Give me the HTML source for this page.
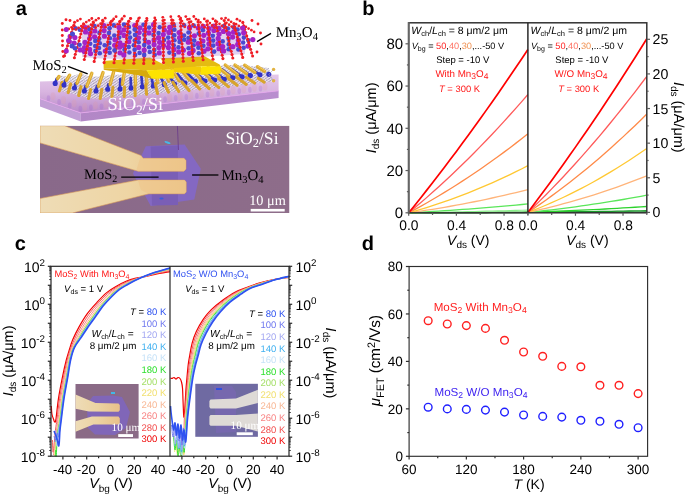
<!DOCTYPE html>
<html><head><meta charset="utf-8"><style>
html,body{margin:0;padding:0;background:#fff;}
svg{display:block;filter:blur(0.35px);}
</style></head><body>
<svg width="685" height="495" viewBox="0 0 685 495" font-family="Liberation Sans, sans-serif" text-rendering="geometricPrecision">
<g font-family="Liberation Sans, sans-serif">
<path d="M408.70,212.80 L414.66,212.79 L420.62,212.78 L426.58,212.78 L432.54,212.77 L438.50,212.76 L444.46,212.75 L450.42,212.74 L456.38,212.73 L462.34,212.72 L468.30,212.71 L474.26,212.70 L480.22,212.69 L486.18,212.68 L492.14,212.67 L498.10,212.65 L504.06,212.64 L510.02,212.63 L515.98,212.62 L521.94,212.60 L527.90,212.59" stroke="#0a7a1a" stroke-width="1.4" fill="none" stroke-linejoin="round"/>
<path d="M408.70,212.80 L414.66,212.77 L420.62,212.74 L426.58,212.71 L432.54,212.67 L438.50,212.64 L444.46,212.60 L450.42,212.56 L456.38,212.52 L462.34,212.48 L468.30,212.44 L474.26,212.40 L480.22,212.35 L486.18,212.31 L492.14,212.26 L498.10,212.21 L504.06,212.16 L510.02,212.11 L515.98,212.06 L521.94,212.01 L527.90,211.96" stroke="#2cb82c" stroke-width="1.2" fill="none" stroke-linejoin="round"/>
<path d="M408.70,212.80 L414.66,212.70 L420.62,212.60 L426.58,212.49 L432.54,212.38 L438.50,212.27 L444.46,212.15 L450.42,212.03 L456.38,211.90 L462.34,211.77 L468.30,211.63 L474.26,211.49 L480.22,211.35 L486.18,211.20 L492.14,211.05 L498.10,210.89 L504.06,210.73 L510.02,210.57 L515.98,210.40 L521.94,210.23 L527.90,210.05" stroke="#8af08a" stroke-width="1.2" fill="none" stroke-linejoin="round"/>
<path d="M408.70,212.80 L414.66,212.48 L420.62,212.15 L426.58,211.81 L432.54,211.45 L438.50,211.08 L444.46,210.70 L450.42,210.30 L456.38,209.89 L462.34,209.47 L468.30,209.03 L474.26,208.58 L480.22,208.12 L486.18,207.64 L492.14,207.15 L498.10,206.64 L504.06,206.13 L510.02,205.60 L515.98,205.05 L521.94,204.50 L527.90,203.93" stroke="#5ae65a" stroke-width="1.3" fill="none" stroke-linejoin="round"/>
<path d="M408.70,212.80 L414.66,211.97 L420.62,211.10 L426.58,210.20 L432.54,209.27 L438.50,208.30 L444.46,207.29 L450.42,206.25 L456.38,205.18 L462.34,204.07 L468.30,202.92 L474.26,201.74 L480.22,200.53 L486.18,199.28 L492.14,198.00 L498.10,196.68 L504.06,195.33 L510.02,193.94 L515.98,192.51 L521.94,191.06 L527.90,189.56" stroke="#ffb47a" stroke-width="1.3" fill="none" stroke-linejoin="round"/>
<path d="M408.70,212.80 L414.66,211.12 L420.62,209.36 L426.58,207.54 L432.54,205.64 L438.50,203.67 L444.46,201.64 L450.42,199.53 L456.38,197.35 L462.34,195.10 L468.30,192.78 L474.26,190.39 L480.22,187.93 L486.18,185.39 L492.14,182.79 L498.10,180.12 L504.06,177.37 L510.02,174.56 L515.98,171.67 L521.94,168.72 L527.90,165.69" stroke="#ffc832" stroke-width="1.3" fill="none" stroke-linejoin="round"/>
<path d="M408.70,212.80 L414.66,209.60 L420.62,206.32 L426.58,202.96 L432.54,199.53 L438.50,196.01 L444.46,192.42 L450.42,188.74 L456.38,184.99 L462.34,181.16 L468.30,177.25 L474.26,173.26 L480.22,169.19 L486.18,165.04 L492.14,160.81 L498.10,156.51 L504.06,152.12 L510.02,147.66 L515.98,143.12 L521.94,138.49 L527.90,133.79" stroke="#ff8a48" stroke-width="1.3" fill="none" stroke-linejoin="round"/>
<path d="M408.70,212.80 L414.66,207.84 L420.62,202.78 L426.58,197.62 L432.54,192.36 L438.50,187.00 L444.46,181.53 L450.42,175.97 L456.38,170.31 L462.34,164.54 L468.30,158.68 L474.26,152.71 L480.22,146.65 L486.18,140.48 L492.14,134.21 L498.10,127.85 L504.06,121.38 L510.02,114.81 L515.98,108.14 L521.94,101.37 L527.90,94.50" stroke="#ff5a5a" stroke-width="1.3" fill="none" stroke-linejoin="round"/>
<path d="M408.70,212.80 L414.66,205.41 L420.62,197.94 L426.58,190.39 L432.54,182.75 L438.50,175.04 L444.46,167.24 L450.42,159.36 L456.38,151.40 L462.34,143.36 L468.30,135.23 L474.26,127.03 L480.22,118.74 L486.18,110.37 L492.14,101.92 L498.10,93.39 L504.06,84.78 L510.02,76.08 L515.98,67.30 L521.94,58.44 L527.90,49.50" stroke="#ff0000" stroke-width="1.7" fill="none" stroke-linejoin="round"/>
<path d="M527.90,212.40 L533.85,212.39 L539.79,212.37 L545.74,212.36 L551.68,212.35 L557.62,212.33 L563.57,212.32 L569.51,212.30 L575.46,212.29 L581.40,212.27 L587.35,212.25 L593.29,212.24 L599.24,212.22 L605.18,212.20 L611.13,212.18 L617.07,212.16 L623.02,212.14 L628.96,212.12 L634.91,212.10 L640.85,212.08 L646.80,212.05" stroke="#0a6a1a" stroke-width="1.4" fill="none" stroke-linejoin="round"/>
<path d="M527.90,212.40 L533.85,212.34 L539.79,212.27 L545.74,212.21 L551.68,212.14 L557.62,212.06 L563.57,211.99 L569.51,211.91 L575.46,211.83 L581.40,211.75 L587.35,211.66 L593.29,211.58 L599.24,211.49 L605.18,211.39 L611.13,211.30 L617.07,211.20 L623.02,211.10 L628.96,210.99 L634.91,210.89 L640.85,210.78 L646.80,210.67" stroke="#1a9a2a" stroke-width="1.3" fill="none" stroke-linejoin="round"/>
<path d="M527.90,212.40 L533.85,212.19 L539.79,211.97 L545.74,211.74 L551.68,211.51 L557.62,211.26 L563.57,211.01 L569.51,210.74 L575.46,210.47 L581.40,210.19 L587.35,209.90 L593.29,209.60 L599.24,209.29 L605.18,208.98 L611.13,208.65 L617.07,208.32 L623.02,207.97 L628.96,207.62 L634.91,207.26 L640.85,206.89 L646.80,206.51" stroke="#2cd22c" stroke-width="1.3" fill="none" stroke-linejoin="round"/>
<path d="M527.90,212.40 L533.85,211.79 L539.79,211.15 L545.74,210.48 L551.68,209.79 L557.62,209.07 L563.57,208.33 L569.51,207.56 L575.46,206.77 L581.40,205.95 L587.35,205.10 L593.29,204.23 L599.24,203.33 L605.18,202.41 L611.13,201.46 L617.07,200.49 L623.02,199.49 L628.96,198.46 L634.91,197.41 L640.85,196.33 L646.80,195.23" stroke="#5ae65a" stroke-width="1.3" fill="none" stroke-linejoin="round"/>
<path d="M527.90,212.40 L533.85,211.09 L539.79,209.73 L545.74,208.31 L551.68,206.84 L557.62,205.32 L563.57,203.74 L569.51,202.10 L575.46,200.41 L581.40,198.66 L587.35,196.86 L593.29,195.01 L599.24,193.10 L605.18,191.13 L611.13,189.11 L617.07,187.04 L623.02,184.91 L628.96,182.72 L634.91,180.48 L640.85,178.19 L646.80,175.84" stroke="#ffb47a" stroke-width="1.3" fill="none" stroke-linejoin="round"/>
<path d="M527.90,212.40 L533.85,210.11 L539.79,207.73 L545.74,205.25 L551.68,202.68 L557.62,200.00 L563.57,197.24 L569.51,194.37 L575.46,191.42 L581.40,188.36 L587.35,185.21 L593.29,181.96 L599.24,178.62 L605.18,175.18 L611.13,171.65 L617.07,168.02 L623.02,164.29 L628.96,160.47 L634.91,156.55 L640.85,152.53 L646.80,148.42" stroke="#ffc832" stroke-width="1.3" fill="none" stroke-linejoin="round"/>
<path d="M527.90,212.40 L533.85,208.42 L539.79,204.34 L545.74,200.16 L551.68,195.88 L557.62,191.51 L563.57,187.03 L569.51,182.46 L575.46,177.79 L581.40,173.02 L587.35,168.16 L593.29,163.19 L599.24,158.13 L605.18,152.97 L611.13,147.70 L617.07,142.35 L623.02,136.89 L628.96,131.33 L634.91,125.68 L640.85,119.93 L646.80,114.08" stroke="#ff8a48" stroke-width="1.3" fill="none" stroke-linejoin="round"/>
<path d="M527.90,212.40 L533.85,206.70 L539.79,200.88 L545.74,194.94 L551.68,188.89 L557.62,182.72 L563.57,176.44 L569.51,170.04 L575.46,163.53 L581.40,156.90 L587.35,150.15 L593.29,143.29 L599.24,136.32 L605.18,129.23 L611.13,122.02 L617.07,114.69 L623.02,107.26 L628.96,99.70 L634.91,92.03 L640.85,84.24 L646.80,76.34" stroke="#ff5a5a" stroke-width="1.3" fill="none" stroke-linejoin="round"/>
<path d="M527.90,212.40 L533.85,204.55 L539.79,196.60 L545.74,188.58 L551.68,180.46 L557.62,172.26 L563.57,163.97 L569.51,155.59 L575.46,147.13 L581.40,138.58 L587.35,129.95 L593.29,121.22 L599.24,112.42 L605.18,103.52 L611.13,94.54 L617.07,85.47 L623.02,76.31 L628.96,67.07 L634.91,57.74 L640.85,48.32 L646.80,38.82" stroke="#ff0000" stroke-width="1.7" fill="none" stroke-linejoin="round"/>
<rect x="408.7" y="22.8" width="238.10" height="190.00" fill="none" stroke="#333" stroke-width="1.5"/>
<line x1="527.90" y1="22.80" x2="527.90" y2="212.80" stroke="#2a2a2a" stroke-width="1.5" />
<line x1="408.70" y1="22.10" x2="408.70" y2="213.50" stroke="#666" stroke-width="1.9" />
<line x1="405.50" y1="212.80" x2="408.70" y2="212.80" stroke="#5c5c5c" stroke-width="1.2" />
<text x="403.10" y="218.00" font-size="15.0" fill="#000" text-anchor="end" >0</text>
<line x1="406.90" y1="191.68" x2="408.70" y2="191.68" stroke="#5c5c5c" stroke-width="1.2" />
<line x1="405.50" y1="170.55" x2="408.70" y2="170.55" stroke="#5c5c5c" stroke-width="1.2" />
<text x="403.10" y="175.75" font-size="15.0" fill="#000" text-anchor="end" >20</text>
<line x1="406.90" y1="149.43" x2="408.70" y2="149.43" stroke="#5c5c5c" stroke-width="1.2" />
<line x1="405.50" y1="128.30" x2="408.70" y2="128.30" stroke="#5c5c5c" stroke-width="1.2" />
<text x="403.10" y="133.50" font-size="15.0" fill="#000" text-anchor="end" >40</text>
<line x1="406.90" y1="107.18" x2="408.70" y2="107.18" stroke="#5c5c5c" stroke-width="1.2" />
<line x1="405.50" y1="86.05" x2="408.70" y2="86.05" stroke="#5c5c5c" stroke-width="1.2" />
<text x="403.10" y="91.25" font-size="15.0" fill="#000" text-anchor="end" >60</text>
<line x1="406.90" y1="64.93" x2="408.70" y2="64.93" stroke="#5c5c5c" stroke-width="1.2" />
<line x1="405.50" y1="43.80" x2="408.70" y2="43.80" stroke="#5c5c5c" stroke-width="1.2" />
<text x="403.10" y="49.00" font-size="15.0" fill="#000" text-anchor="end" >80</text>
<line x1="646.80" y1="212.40" x2="650.00" y2="212.40" stroke="#5c5c5c" stroke-width="1.2" />
<text x="652.60" y="217.40" font-size="14.2" fill="#000" text-anchor="start" >0</text>
<line x1="646.80" y1="177.78" x2="650.00" y2="177.78" stroke="#5c5c5c" stroke-width="1.2" />
<text x="652.60" y="182.78" font-size="14.2" fill="#000" text-anchor="start" >5</text>
<line x1="646.80" y1="143.16" x2="650.00" y2="143.16" stroke="#5c5c5c" stroke-width="1.2" />
<text x="652.60" y="148.16" font-size="14.2" fill="#000" text-anchor="start" >10</text>
<line x1="646.80" y1="108.54" x2="650.00" y2="108.54" stroke="#5c5c5c" stroke-width="1.2" />
<text x="652.60" y="113.54" font-size="14.2" fill="#000" text-anchor="start" >15</text>
<line x1="646.80" y1="73.92" x2="650.00" y2="73.92" stroke="#5c5c5c" stroke-width="1.2" />
<text x="652.60" y="78.92" font-size="14.2" fill="#000" text-anchor="start" >20</text>
<line x1="646.80" y1="39.30" x2="650.00" y2="39.30" stroke="#5c5c5c" stroke-width="1.2" />
<text x="652.60" y="44.30" font-size="14.2" fill="#000" text-anchor="start" >25</text>
<line x1="646.80" y1="195.09" x2="648.60" y2="195.09" stroke="#5c5c5c" stroke-width="1.2" />
<line x1="646.80" y1="160.47" x2="648.60" y2="160.47" stroke="#5c5c5c" stroke-width="1.2" />
<line x1="646.80" y1="125.85" x2="648.60" y2="125.85" stroke="#5c5c5c" stroke-width="1.2" />
<line x1="646.80" y1="91.23" x2="648.60" y2="91.23" stroke="#5c5c5c" stroke-width="1.2" />
<line x1="646.80" y1="56.61" x2="648.60" y2="56.61" stroke="#5c5c5c" stroke-width="1.2" />
<line x1="408.70" y1="212.80" x2="408.70" y2="215.80" stroke="#5c5c5c" stroke-width="1.2" />
<line x1="432.54" y1="212.80" x2="432.54" y2="215.00" stroke="#5c5c5c" stroke-width="1.2" />
<line x1="456.38" y1="212.80" x2="456.38" y2="215.80" stroke="#5c5c5c" stroke-width="1.2" />
<line x1="480.22" y1="212.80" x2="480.22" y2="215.00" stroke="#5c5c5c" stroke-width="1.2" />
<line x1="504.06" y1="212.80" x2="504.06" y2="215.80" stroke="#5c5c5c" stroke-width="1.2" />
<line x1="527.90" y1="212.80" x2="527.90" y2="215.00" stroke="#5c5c5c" stroke-width="1.2" />
<text x="408.90" y="229.60" font-size="13.8" fill="#000" text-anchor="middle" >0.0</text>
<text x="456.58" y="229.60" font-size="13.8" fill="#000" text-anchor="middle" >0.4</text>
<text x="504.26" y="229.60" font-size="13.8" fill="#000" text-anchor="middle" >0.8</text>
<line x1="527.90" y1="212.80" x2="527.90" y2="215.80" stroke="#5c5c5c" stroke-width="1.2" />
<line x1="551.68" y1="212.80" x2="551.68" y2="215.00" stroke="#5c5c5c" stroke-width="1.2" />
<line x1="575.46" y1="212.80" x2="575.46" y2="215.80" stroke="#5c5c5c" stroke-width="1.2" />
<line x1="599.24" y1="212.80" x2="599.24" y2="215.00" stroke="#5c5c5c" stroke-width="1.2" />
<line x1="623.02" y1="212.80" x2="623.02" y2="215.80" stroke="#5c5c5c" stroke-width="1.2" />
<line x1="646.80" y1="212.80" x2="646.80" y2="215.00" stroke="#5c5c5c" stroke-width="1.2" />
<text x="528.10" y="229.60" font-size="13.8" fill="#000" text-anchor="middle" >0.0</text>
<text x="575.66" y="229.60" font-size="13.8" fill="#000" text-anchor="middle" >0.4</text>
<text x="623.22" y="229.60" font-size="13.8" fill="#000" text-anchor="middle" >0.8</text>
<text x="468.30" y="244.60" font-size="14" fill="#000" text-anchor="middle"><tspan font-style="italic">V</tspan><tspan font-size="10" dy="3">ds</tspan><tspan dy="-3"> (V)</tspan></text>
<text x="587.40" y="244.60" font-size="14" fill="#000" text-anchor="middle"><tspan font-style="italic">V</tspan><tspan font-size="10" dy="3">ds</tspan><tspan dy="-3"> (V)</tspan></text>
<text transform="translate(376.2,117.9) rotate(-90)" font-size="14.5" text-anchor="middle" fill="#000"><tspan font-style="italic">I</tspan><tspan font-size="10" dy="3">ds</tspan><tspan dy="-3"> (μA/μm)</tspan></text>
<text transform="translate(674.0,117.3) rotate(90)" font-size="14.5" text-anchor="middle" fill="#000"><tspan font-style="italic">I</tspan><tspan font-size="10" dy="3">ds</tspan><tspan dy="-3"> (μA/μm)</tspan></text>
<text x="411.30" y="34.3" font-size="10.5" fill="#000"><tspan font-style="italic">W</tspan><tspan font-size="7.5" dy="2">ch</tspan><tspan dy="-2">/</tspan><tspan font-style="italic">L</tspan><tspan font-size="7.5" dy="2">ch</tspan><tspan dy="-2"> = 8 μm/2 μm</tspan></text>
<text x="411.70" y="49.2" font-size="9.2" fill="#000"><tspan font-style="italic">V</tspan><tspan font-size="7" dy="2">bg</tspan><tspan dy="-2"> = </tspan><tspan fill="#ff2020">50</tspan>,<tspan fill="#ff7060">40</tspan>,<tspan fill="#f09050">30</tspan>,...-50 V</text>
<text x="462.70" y="62.5" font-size="9.5" fill="#000" text-anchor="middle">Step = -10 V</text>
<text x="461.90" y="77.1" font-size="9.8" fill="#ff1a1a" text-anchor="middle">With Mn<tspan font-size="8.5" dy="1.8">3</tspan><tspan dy="-1.8">O</tspan><tspan font-size="8.5" dy="1.8">4</tspan></text>
<text x="459.50" y="91.5" font-size="9.4" fill="#ff1a1a" text-anchor="middle"><tspan font-style="italic">T</tspan> = 300 K</text>
<text x="530.50" y="34.3" font-size="10.5" fill="#000"><tspan font-style="italic">W</tspan><tspan font-size="7.5" dy="2">ch</tspan><tspan dy="-2">/</tspan><tspan font-style="italic">L</tspan><tspan font-size="7.5" dy="2">ch</tspan><tspan dy="-2"> = 8 μm/2 μm</tspan></text>
<text x="530.90" y="49.2" font-size="9.2" fill="#000"><tspan font-style="italic">V</tspan><tspan font-size="7" dy="2">bg</tspan><tspan dy="-2"> = </tspan><tspan fill="#ff2020">50</tspan>,<tspan fill="#ff7060">40</tspan>,<tspan fill="#f09050">30</tspan>,...-50 V</text>
<text x="581.90" y="62.5" font-size="9.5" fill="#000" text-anchor="middle">Step = -10 V</text>
<text x="581.10" y="77.1" font-size="9.8" fill="#ff1a1a" text-anchor="middle">W/O Mn<tspan font-size="8.5" dy="1.8">3</tspan><tspan dy="-1.8">O</tspan><tspan font-size="8.5" dy="1.8">4</tspan></text>
<text x="578.70" y="91.5" font-size="9.4" fill="#ff1a1a" text-anchor="middle"><tspan font-style="italic">T</tspan> = 300 K</text>
</g>
<g font-family="Liberation Sans, sans-serif">
<path d="M170.00,271.60 C167.50,272.05 159.17,273.47 155.00,274.30 C150.83,275.13 148.33,275.92 145.00,276.60 C141.67,277.28 138.15,277.62 135.00,278.40 C131.85,279.18 129.20,280.00 126.10,281.30 C123.00,282.60 119.63,284.32 116.40,286.20 C113.17,288.08 109.93,289.92 106.70,292.60 C103.47,295.28 100.23,298.80 97.00,302.30 C93.77,305.80 90.27,309.55 87.30,313.60 C84.33,317.65 81.62,322.28 79.20,326.60 C76.78,330.92 74.42,335.73 72.80,339.50 C71.18,343.27 70.58,345.78 69.50,349.20 C68.42,352.62 67.48,355.32 66.30,360.00 C65.12,364.68 63.70,370.92 62.40,377.30 C61.10,383.68 59.58,391.30 58.50,398.30 C57.42,405.30 56.55,415.37 55.90,419.30 C55.25,423.23 55.00,421.95 54.60,421.90 C54.20,421.85 53.95,420.32 53.50,419.00 C53.05,417.68 52.27,416.17 51.90,414.00 C51.53,411.83 51.40,407.33 51.30,406.00" stroke="#f00000" stroke-width="1.2" fill="none" stroke-linejoin="round"/>
<path d="M170.00,270.86 C167.50,271.37 159.17,272.96 155.00,273.90 C150.83,274.84 148.33,275.66 145.00,276.48 C141.67,277.30 138.10,277.91 135.00,278.82 C131.90,279.73 129.41,280.60 126.42,281.94 C123.43,283.28 120.16,284.93 117.04,286.84 C113.92,288.75 110.80,290.73 107.68,293.42 C104.56,296.11 101.43,299.49 98.30,302.96 C95.17,306.43 91.83,310.27 88.92,314.26 C86.01,318.25 83.24,322.77 80.82,326.92 C78.40,331.07 76.14,335.52 74.42,339.18 C72.70,342.84 71.69,345.41 70.48,348.88 C69.27,352.35 68.33,355.26 67.16,360.00 C65.99,364.74 64.72,370.92 63.46,377.30 C62.20,383.68 60.68,391.30 59.60,398.30 C58.52,405.30 57.66,414.02 56.98,419.30 C56.30,424.58 56.13,424.55 55.50,430.00 C54.87,435.45 53.70,450.33 53.20,452.00 C52.70,453.67 52.62,442.00 52.50,440.00" stroke="#f25050" stroke-width="0.95" fill="none" stroke-linejoin="round"/>
<path d="M170.00,270.12 C167.50,270.68 159.17,272.46 155.00,273.50 C150.83,274.54 148.33,275.40 145.00,276.36 C141.67,277.32 138.04,278.20 135.00,279.24 C131.96,280.28 129.63,281.21 126.74,282.58 C123.85,283.95 120.69,285.54 117.68,287.48 C114.67,289.42 111.67,291.55 108.66,294.24 C105.65,296.93 102.62,300.17 99.60,303.62 C96.58,307.07 93.40,310.98 90.54,314.92 C87.68,318.86 84.86,323.25 82.44,327.24 C80.02,331.23 77.87,335.31 76.04,338.86 C74.21,342.41 72.80,345.04 71.46,348.56 C70.12,352.08 69.18,355.21 68.02,360.00 C66.86,364.79 65.74,370.92 64.52,377.30 C63.30,383.68 61.78,391.30 60.70,398.30 C59.62,405.30 58.88,413.02 58.06,419.30 C57.24,425.58 56.56,430.05 55.80,436.00 C55.04,441.95 53.88,451.83 53.50,455.00" stroke="#f88484" stroke-width="0.95" fill="none" stroke-linejoin="round"/>
<path d="M170.00,269.45 C167.50,270.07 159.17,272.01 155.00,273.14 C150.83,274.27 148.33,275.17 145.00,276.25 C141.67,277.33 138.00,278.47 135.00,279.62 C132.00,280.77 129.82,281.75 127.03,283.16 C124.24,284.56 121.17,286.09 118.26,288.06 C115.34,290.03 112.46,292.29 109.54,294.98 C106.63,297.67 103.69,300.79 100.77,304.21 C97.85,307.64 94.81,311.63 92.00,315.51 C89.19,319.40 86.31,323.69 83.90,327.53 C81.48,331.37 79.42,335.11 77.50,338.57 C75.57,342.03 73.79,344.70 72.34,348.27 C70.89,351.84 69.94,355.16 68.79,360.00 C67.65,364.84 66.66,370.92 65.47,377.30 C64.29,383.68 62.76,391.30 61.69,398.30 C60.62,405.30 59.95,413.02 59.03,419.30 C58.12,425.58 56.96,430.88 56.20,436.00 C55.44,441.12 54.78,447.67 54.50,450.00" stroke="#f8b896" stroke-width="0.95" fill="none" stroke-linejoin="round"/>
<path d="M170.00,269.01 C167.50,269.66 159.17,271.71 155.00,272.90 C150.83,274.10 148.33,275.02 145.00,276.18 C141.67,277.34 137.96,278.64 135.00,279.87 C132.04,281.10 129.95,282.11 127.22,283.54 C124.49,284.97 121.49,286.45 118.64,288.44 C115.79,290.43 112.98,292.78 110.13,295.47 C107.28,298.17 104.41,301.20 101.55,304.61 C98.69,308.02 95.75,312.06 92.97,315.91 C90.19,319.76 87.29,323.98 84.87,327.72 C82.45,331.47 80.46,334.99 78.47,338.38 C76.48,341.77 74.46,344.48 72.93,348.08 C71.40,351.68 70.45,355.13 69.31,360.00 C68.17,364.87 67.27,370.92 66.11,377.30 C64.95,383.68 63.42,391.30 62.35,398.30 C61.28,405.30 60.64,413.02 59.68,419.30 C58.72,425.58 57.38,430.55 56.60,436.00 C55.82,441.45 55.35,448.67 55.00,452.00 C54.65,455.33 54.58,455.33 54.50,456.00" stroke="#f2e070" stroke-width="0.95" fill="none" stroke-linejoin="round"/>
<path d="M170.00,268.79 C167.50,269.45 159.17,271.55 155.00,272.78 C150.83,274.01 148.33,274.94 145.00,276.14 C141.67,277.35 137.95,278.73 135.00,280.00 C132.05,281.26 130.01,282.29 127.32,283.73 C124.62,285.17 121.65,286.63 118.83,288.63 C116.02,290.63 113.24,293.02 110.42,295.72 C107.61,298.41 104.77,301.41 101.94,304.81 C99.11,308.21 96.22,312.27 93.46,316.11 C90.69,319.94 87.77,324.12 85.36,327.82 C82.94,331.51 80.98,334.92 78.96,338.28 C76.93,341.65 74.79,344.36 73.22,347.98 C71.66,351.60 70.70,355.11 69.57,360.00 C68.44,364.89 67.58,370.92 66.43,377.30 C65.28,383.68 63.75,391.30 62.68,398.30 C61.61,405.30 60.95,413.02 60.00,419.30 C59.06,425.58 57.77,429.88 57.00,436.00 C56.23,442.12 55.67,452.67 55.40,456.00" stroke="#a6e06a" stroke-width="0.95" fill="none" stroke-linejoin="round"/>
<path d="M170.00,268.64 C167.50,269.32 159.17,271.45 155.00,272.70 C150.83,273.95 148.33,274.89 145.00,276.12 C141.67,277.35 137.94,278.79 135.00,280.08 C132.06,281.37 130.05,282.41 127.38,283.86 C124.71,285.31 121.75,286.76 118.96,288.76 C116.17,290.76 113.41,293.18 110.62,295.88 C107.83,298.58 105.01,301.55 102.20,304.94 C99.39,308.33 96.53,312.42 93.78,316.24 C91.03,320.06 88.10,324.22 85.68,327.88 C83.26,331.54 81.32,334.88 79.28,338.22 C77.24,341.56 75.01,344.29 73.42,347.92 C71.83,351.55 70.87,355.10 69.74,360.00 C68.61,364.90 67.78,370.92 66.64,377.30 C65.50,383.68 63.97,391.30 62.90,398.30 C61.83,405.30 61.12,413.18 60.22,419.30 C59.32,425.42 58.17,428.88 57.50,435.00 C56.83,441.12 56.53,453.50 56.20,456.00 C55.87,458.50 55.62,451.00 55.50,450.00" stroke="#2ee02e" stroke-width="0.95" fill="none" stroke-linejoin="round"/>
<path d="M170.00,268.49 C167.50,269.18 159.17,271.35 155.00,272.62 C150.83,273.89 148.33,274.84 145.00,276.10 C141.67,277.35 137.93,278.85 135.00,280.16 C132.07,281.48 130.10,282.53 127.44,283.99 C124.79,285.44 121.86,286.88 119.09,288.89 C116.32,290.90 113.59,293.35 110.82,296.04 C108.04,298.74 105.25,301.68 102.46,305.07 C99.67,308.46 96.85,312.56 94.10,316.37 C91.36,320.18 88.42,324.31 86.00,327.94 C83.59,331.57 81.67,334.84 79.60,338.16 C77.54,341.47 75.23,344.22 73.62,347.86 C72.00,351.50 71.04,355.09 69.91,360.00 C68.78,364.91 67.98,370.92 66.85,377.30 C65.72,383.68 64.19,391.30 63.12,398.30 C62.05,405.30 61.29,413.52 60.44,419.30 C59.58,425.08 58.57,428.55 58.00,433.00 C57.43,437.45 57.25,444.83 57.00,446.00 C56.75,447.17 56.58,441.00 56.50,440.00" stroke="#b8d8f4" stroke-width="0.95" fill="none" stroke-linejoin="round"/>
<path d="M170.00,268.34 C167.50,269.04 159.17,271.25 155.00,272.54 C150.83,273.83 148.33,274.79 145.00,276.07 C141.67,277.36 137.92,278.91 135.00,280.25 C132.08,281.59 130.14,282.65 127.51,284.12 C124.88,285.58 121.97,287.00 119.22,289.02 C116.47,291.03 113.76,293.51 111.01,296.21 C108.26,298.91 105.48,301.82 102.72,305.20 C99.96,308.59 97.16,312.70 94.43,316.50 C91.70,320.30 88.74,324.41 86.33,328.01 C83.91,331.61 82.01,334.79 79.93,338.09 C77.84,341.39 75.45,344.14 73.81,347.79 C72.17,351.44 71.21,355.08 70.08,360.00 C68.96,364.92 68.19,370.92 67.06,377.30 C65.94,383.68 64.41,391.30 63.34,398.30 C62.27,405.30 61.46,413.68 60.65,419.30 C59.85,424.92 59.08,428.55 58.50,432.00 C57.92,435.45 57.53,439.33 57.20,440.00 C56.87,440.67 56.87,435.67 56.50,436.00 C56.13,436.33 55.25,441.00 55.00,442.00" stroke="#3fb0f0" stroke-width="0.95" fill="none" stroke-linejoin="round"/>
<path d="M170.00,268.20 C167.50,268.91 159.17,271.15 155.00,272.46 C150.83,273.77 148.33,274.74 145.00,276.05 C141.67,277.36 137.90,278.97 135.00,280.33 C132.10,281.70 130.18,282.78 127.57,284.24 C124.96,285.71 122.07,287.12 119.34,289.14 C116.62,291.17 113.94,293.67 111.21,296.37 C108.48,299.07 105.72,301.96 102.98,305.34 C100.24,308.71 97.47,312.85 94.75,316.64 C92.03,320.43 89.07,324.51 86.65,328.07 C84.24,331.64 82.36,334.75 80.25,338.03 C78.14,341.30 75.67,344.07 74.01,347.73 C72.34,351.39 71.38,355.07 70.26,360.00 C69.13,364.93 68.39,370.92 67.28,377.30 C66.16,383.68 64.63,391.30 63.56,398.30 C62.49,405.30 61.63,414.02 60.87,419.30 C60.11,424.58 59.48,425.72 59.00,430.00 C58.52,434.28 58.33,443.67 58.00,445.00 C57.67,446.33 57.40,440.50 57.00,438.00 C56.60,435.50 55.83,431.33 55.60,430.00" stroke="#a3a8f2" stroke-width="0.95" fill="none" stroke-linejoin="round"/>
<path d="M170.00,268.05 C167.50,268.77 159.17,271.05 155.00,272.38 C150.83,273.71 148.33,274.68 145.00,276.02 C141.67,277.36 137.89,279.02 135.00,280.42 C132.11,281.81 130.22,282.90 127.64,284.37 C125.05,285.85 122.18,287.24 119.47,289.27 C116.77,291.30 114.11,293.84 111.40,296.54 C108.70,299.24 105.96,302.10 103.24,305.47 C100.52,308.84 97.79,312.99 95.08,316.77 C92.37,320.55 89.39,324.60 86.98,328.14 C84.56,331.67 82.70,334.71 80.58,337.96 C78.45,341.22 75.90,343.99 74.20,347.66 C72.51,351.34 71.55,355.06 70.43,360.00 C69.31,364.94 68.60,370.92 67.49,377.30 C66.38,383.68 64.85,391.30 63.78,398.30 C62.71,405.30 61.80,413.68 61.08,419.30 C60.37,424.92 59.93,429.05 59.50,432.00 C59.07,434.95 58.88,436.83 58.50,437.00 C58.12,437.17 57.70,432.50 57.20,433.00 C56.70,433.50 56.03,439.50 55.50,440.00 C54.97,440.50 54.25,436.67 54.00,436.00" stroke="#6f78f0" stroke-width="0.95" fill="none" stroke-linejoin="round"/>
<path d="M170.00,267.90 C167.50,268.63 159.17,270.95 155.00,272.30 C150.83,273.65 148.33,274.63 145.00,276.00 C141.67,277.37 137.88,279.08 135.00,280.50 C132.12,281.92 130.27,283.02 127.70,284.50 C125.13,285.98 122.28,287.37 119.60,289.40 C116.92,291.43 114.28,294.00 111.60,296.70 C108.92,299.40 106.20,302.23 103.50,305.60 C100.80,308.97 98.10,313.13 95.40,316.90 C92.70,320.67 89.72,324.70 87.30,328.20 C84.88,331.70 83.05,334.67 80.90,337.90 C78.75,341.13 76.12,343.92 74.40,347.60 C72.68,351.28 71.72,355.05 70.60,360.00 C69.48,364.95 68.80,370.92 67.70,377.30 C66.60,383.68 65.07,391.30 64.00,398.30 C62.93,405.30 61.97,414.02 61.30,419.30 C60.63,424.58 60.32,426.55 60.00,430.00 C59.68,433.45 59.60,437.33 59.40,440.00 C59.20,442.67 59.12,445.83 58.80,446.00 C58.48,446.17 57.97,442.67 57.50,441.00 C57.03,439.33 56.58,437.67 56.00,436.00 C55.42,434.33 54.33,431.83 54.00,431.00" stroke="#2e52f0" stroke-width="1.6" fill="none" stroke-linejoin="round"/>
<path d="M289.20,277.30 C286.83,277.65 279.87,278.48 275.00,279.40 C270.13,280.32 264.52,281.52 260.00,282.80 C255.48,284.08 252.08,285.53 247.90,287.10 C243.72,288.67 239.22,289.93 234.90,292.20 C230.58,294.47 225.93,297.80 222.00,300.70 C218.07,303.60 214.43,306.50 211.30,309.60 C208.17,312.70 205.70,315.63 203.20,319.30 C200.70,322.97 198.13,327.67 196.30,331.60 C194.47,335.53 193.28,339.00 192.20,342.90 C191.12,346.80 190.45,351.48 189.80,355.00 C189.15,358.52 188.77,360.28 188.30,364.00 C187.83,367.72 187.40,372.90 187.00,377.30 C186.60,381.70 186.27,385.15 185.90,390.40 C185.53,395.65 185.12,404.42 184.80,408.80 C184.48,413.18 184.20,415.83 184.00,416.70 C183.80,417.57 183.77,416.78 183.60,414.00 C183.43,411.22 183.18,404.33 183.00,400.00 C182.82,395.67 182.75,391.00 182.50,388.00 C182.25,385.00 181.92,383.58 181.50,382.00 C181.08,380.42 180.58,379.25 180.00,378.50 C179.42,377.75 178.67,377.42 178.00,377.50 C177.33,377.58 176.67,379.00 176.00,379.00 C175.33,379.00 174.67,377.58 174.00,377.50 C173.33,377.42 172.58,378.42 172.00,378.50 C171.42,378.58 170.75,378.08 170.50,378.00" stroke="#f00000" stroke-width="1.2" fill="none" stroke-linejoin="round"/>
<path d="M289.20,277.16 C286.83,277.54 279.87,278.46 275.00,279.46 C270.13,280.45 264.48,281.80 260.00,283.11 C255.52,284.42 252.16,285.76 248.12,287.32 C244.08,288.89 239.92,290.22 235.75,292.48 C231.59,294.74 226.98,298.01 223.12,300.91 C219.26,303.81 215.69,306.78 212.59,309.91 C209.49,313.04 206.99,316.05 204.50,319.71 C202.01,323.37 199.50,327.96 197.66,331.87 C195.81,335.78 194.54,339.31 193.43,343.17 C192.32,347.02 191.68,351.50 190.99,355.00 C190.30,358.50 189.84,360.42 189.31,364.14 C188.78,367.86 188.29,372.80 187.83,377.30 C187.36,381.80 186.95,385.71 186.52,391.14 C186.08,396.58 185.57,405.22 185.21,409.91 C184.84,414.59 184.60,413.25 184.34,419.26 C184.07,425.28 183.92,443.21 183.60,446.00 C183.28,448.79 182.83,435.67 182.40,436.00 C181.97,436.33 181.23,446.00 181.00,448.00" stroke="#f25050" stroke-width="0.95" fill="none" stroke-linejoin="round"/>
<path d="M289.20,277.02 C286.83,277.44 279.87,278.45 275.00,279.51 C270.13,280.58 264.44,282.08 260.00,283.42 C255.56,284.76 252.25,285.99 248.35,287.55 C244.45,289.11 240.63,290.50 236.61,292.76 C232.59,295.02 228.03,298.21 224.24,301.12 C220.45,304.03 216.95,307.05 213.88,310.22 C210.80,313.38 208.28,316.46 205.80,320.11 C203.33,323.76 200.87,328.25 199.02,332.13 C197.16,336.02 195.80,339.62 194.66,343.43 C193.52,347.24 192.90,351.53 192.18,355.00 C191.46,358.47 190.90,360.56 190.32,364.28 C189.73,368.00 189.18,372.70 188.65,377.30 C188.12,381.90 187.64,386.27 187.13,391.88 C186.63,397.50 186.02,406.02 185.61,411.01 C185.20,416.00 184.99,415.33 184.67,421.82 C184.35,428.32 184.08,446.97 183.70,450.00 C183.32,453.03 182.85,439.67 182.40,440.00 C181.95,440.33 181.48,452.00 181.00,452.00 C180.52,452.00 179.75,442.00 179.50,440.00" stroke="#f88484" stroke-width="0.95" fill="none" stroke-linejoin="round"/>
<path d="M289.20,276.90 C286.83,277.34 279.87,278.43 275.00,279.56 C270.13,280.69 264.41,282.32 260.00,283.68 C255.59,285.04 252.32,286.19 248.54,287.74 C244.76,289.29 241.23,290.74 237.34,293.00 C233.45,295.26 228.93,298.39 225.20,301.30 C221.47,304.21 218.03,307.29 214.98,310.48 C211.93,313.67 209.39,316.81 206.92,320.46 C204.45,324.11 202.05,328.49 200.18,332.36 C198.31,336.23 196.88,339.89 195.72,343.66 C194.56,347.43 193.96,351.54 193.20,355.00 C192.44,358.46 191.82,360.68 191.18,364.40 C190.54,368.12 189.95,372.61 189.36,377.30 C188.77,381.99 188.23,386.74 187.66,392.52 C187.09,398.30 186.41,406.71 185.96,411.96 C185.51,417.21 185.32,417.01 184.96,424.02 C184.60,431.03 184.23,450.50 183.80,454.00 C183.37,457.50 182.87,444.67 182.40,445.00 C181.93,445.33 181.57,455.83 181.00,456.00 C180.43,456.17 179.58,446.33 179.00,446.00 C178.42,445.67 177.75,452.67 177.50,454.00" stroke="#f8b896" stroke-width="0.95" fill="none" stroke-linejoin="round"/>
<path d="M289.20,276.80 C286.83,277.27 279.87,278.42 275.00,279.60 C270.13,280.78 264.38,282.52 260.00,283.90 C255.62,285.28 252.38,286.35 248.70,287.90 C245.02,289.45 241.73,290.94 237.95,293.20 C234.17,295.46 229.68,298.53 226.00,301.45 C222.32,304.37 218.93,307.48 215.90,310.70 C212.88,313.92 210.31,317.11 207.85,320.75 C205.39,324.39 203.03,328.70 201.15,332.55 C199.28,336.40 197.78,340.11 196.60,343.85 C195.42,347.59 194.83,351.56 194.05,355.00 C193.27,358.44 192.58,360.78 191.90,364.50 C191.22,368.22 190.58,372.54 189.95,377.30 C189.32,382.06 188.72,387.14 188.10,393.05 C187.48,398.96 186.73,407.28 186.25,412.75 C185.77,418.22 185.57,418.98 185.20,425.85 C184.82,432.73 184.45,450.64 184.00,454.00 C183.55,457.36 183.00,445.67 182.50,446.00 C182.00,446.33 181.50,455.83 181.00,456.00 C180.50,456.17 180.08,447.17 179.50,447.00 C178.92,446.83 178.08,455.67 177.50,455.00 C176.92,454.33 176.50,443.50 176.00,443.00 C175.50,442.50 174.75,450.50 174.50,452.00" stroke="#f2e070" stroke-width="0.95" fill="none" stroke-linejoin="round"/>
<path d="M289.20,276.70 C286.83,277.19 279.87,278.40 275.00,279.64 C270.13,280.88 264.36,282.72 260.00,284.12 C255.64,285.52 252.43,286.51 248.86,288.06 C245.29,289.61 242.24,291.14 238.56,293.40 C234.88,295.66 230.42,298.68 226.80,301.60 C223.18,304.52 219.82,307.68 216.82,310.92 C213.82,314.16 211.23,317.40 208.78,321.04 C206.33,324.68 204.00,328.91 202.12,332.74 C200.24,336.57 198.68,340.33 197.48,344.04 C196.28,347.75 195.71,351.57 194.90,355.00 C194.09,358.43 193.35,360.88 192.62,364.60 C191.89,368.32 191.22,372.47 190.54,377.30 C189.86,382.13 189.21,387.54 188.54,393.58 C187.87,399.62 187.06,407.86 186.54,413.54 C186.02,419.22 185.86,421.27 185.44,427.68 C185.02,434.09 184.49,449.28 184.00,452.00 C183.51,454.72 183.00,443.33 182.50,444.00 C182.00,444.67 181.50,456.00 181.00,456.00 C180.50,456.00 180.00,444.67 179.50,444.00 C179.00,443.33 178.25,450.67 178.00,452.00" stroke="#a6e06a" stroke-width="0.95" fill="none" stroke-linejoin="round"/>
<path d="M289.20,276.62 C286.83,277.13 279.87,278.39 275.00,279.67 C270.13,280.95 264.34,282.88 260.00,284.30 C255.66,285.72 252.48,286.64 248.99,288.19 C245.50,289.73 242.64,291.30 239.05,293.56 C235.46,295.82 231.02,298.80 227.44,301.72 C223.86,304.64 220.54,307.84 217.56,311.10 C214.57,314.35 211.97,317.64 209.52,321.27 C207.08,324.90 204.79,329.07 202.90,332.89 C201.01,336.71 199.40,340.51 198.18,344.19 C196.96,347.88 196.41,351.59 195.58,355.00 C194.75,358.41 193.96,360.96 193.20,364.68 C192.43,368.40 191.73,372.41 191.01,377.30 C190.29,382.19 189.60,387.86 188.89,394.00 C188.19,400.15 187.32,408.32 186.77,414.17 C186.23,420.03 186.04,422.84 185.63,429.14 C185.22,435.45 184.74,449.69 184.30,452.00 C183.86,454.31 183.47,442.33 183.00,443.00 C182.53,443.67 182.00,455.50 181.50,456.00 C181.00,456.50 180.58,446.00 180.00,446.00 C179.42,446.00 178.58,457.00 178.00,456.00 C177.42,455.00 177.00,441.00 176.50,440.00 C176.00,439.00 175.50,450.67 175.00,450.00 C174.50,449.33 173.75,438.33 173.50,436.00" stroke="#2ee02e" stroke-width="0.95" fill="none" stroke-linejoin="round"/>
<path d="M289.20,276.54 C286.83,277.07 279.87,278.38 275.00,279.70 C270.13,281.03 264.31,283.04 260.00,284.47 C255.69,285.91 252.53,286.77 249.12,288.32 C245.71,289.86 243.04,291.47 239.54,293.72 C236.03,295.97 231.62,298.91 228.08,301.84 C224.54,304.77 221.26,307.99 218.29,311.27 C215.32,314.55 212.70,317.88 210.27,321.50 C207.83,325.13 205.57,329.24 203.67,333.04 C201.78,336.85 200.12,340.68 198.89,344.34 C197.65,348.00 197.11,351.60 196.26,355.00 C195.41,358.40 194.57,361.04 193.77,364.76 C192.98,368.48 192.24,372.36 191.48,377.30 C190.73,382.24 189.99,388.18 189.24,394.43 C188.50,400.68 187.57,408.77 187.00,414.80 C186.43,420.83 186.24,425.08 185.82,430.61 C185.41,436.14 184.97,446.43 184.50,448.00 C184.03,449.57 183.50,438.83 183.00,440.00 C182.50,441.17 182.00,454.67 181.50,455.00 C181.00,455.33 180.25,444.17 180.00,442.00" stroke="#b8d8f4" stroke-width="0.95" fill="none" stroke-linejoin="round"/>
<path d="M289.20,276.48 C286.83,277.02 279.87,278.37 275.00,279.73 C270.13,281.08 264.30,283.16 260.00,284.60 C255.70,286.05 252.56,286.87 249.21,288.41 C245.86,289.95 243.34,291.59 239.90,293.84 C236.46,296.09 232.07,299.00 228.56,301.93 C225.05,304.86 221.80,308.11 218.84,311.40 C215.89,314.70 213.26,318.05 210.83,321.68 C208.39,325.30 206.16,329.36 204.25,333.16 C202.35,336.95 200.66,340.82 199.42,344.46 C198.17,348.10 197.64,351.61 196.77,355.00 C195.90,358.39 195.03,361.10 194.20,364.82 C193.38,368.54 192.62,372.31 191.84,377.30 C191.06,382.29 190.28,388.42 189.51,394.75 C188.73,401.08 187.77,409.12 187.18,415.28 C186.59,421.44 186.41,426.59 185.97,431.71 C185.52,436.83 184.99,444.95 184.50,446.00 C184.01,447.05 183.50,437.00 183.00,438.00 C182.50,439.00 182.00,451.67 181.50,452.00 C181.00,452.33 180.50,440.50 180.00,440.00 C179.50,439.50 179.00,449.67 178.50,449.00 C178.00,448.33 177.58,436.50 177.00,436.00 C176.42,435.50 175.33,444.33 175.00,446.00" stroke="#3fb0f0" stroke-width="0.95" fill="none" stroke-linejoin="round"/>
<path d="M289.20,276.42 C286.83,276.98 279.87,278.37 275.00,279.75 C270.13,281.14 264.28,283.28 260.00,284.74 C255.72,286.20 252.60,286.97 249.31,288.51 C246.02,290.05 243.65,291.71 240.27,293.96 C236.89,296.21 232.52,299.09 229.04,302.02 C225.56,304.95 222.34,308.23 219.40,311.54 C216.45,314.84 213.81,318.23 211.38,321.85 C208.96,325.47 206.74,329.49 204.84,333.27 C202.93,337.06 201.20,340.95 199.94,344.57 C198.68,348.19 198.16,351.62 197.28,355.00 C196.40,358.38 195.48,361.16 194.64,364.88 C193.79,368.60 193.00,372.27 192.19,377.30 C191.38,382.33 190.58,388.66 189.77,395.06 C188.97,401.47 187.96,409.46 187.35,415.75 C186.74,422.04 186.50,427.93 186.11,432.80 C185.72,437.68 185.44,444.80 185.00,445.00 C184.56,445.20 184.00,433.17 183.50,434.00 C183.00,434.83 182.50,449.67 182.00,450.00 C181.50,450.33 181.00,436.33 180.50,436.00 C180.00,435.67 179.58,448.67 179.00,448.00 C178.42,447.33 177.58,432.67 177.00,432.00 C176.42,431.33 176.00,444.33 175.50,444.00 C175.00,443.67 174.25,432.33 174.00,430.00" stroke="#a3a8f2" stroke-width="0.95" fill="none" stroke-linejoin="round"/>
<path d="M289.20,276.36 C286.83,276.93 279.87,278.36 275.00,279.78 C270.13,281.19 264.27,283.40 260.00,284.87 C255.73,286.34 252.63,287.07 249.40,288.60 C246.18,290.14 243.95,291.83 240.63,294.08 C237.32,296.33 232.97,299.18 229.52,302.11 C226.07,305.04 222.88,308.35 219.95,311.67 C217.02,314.99 214.36,318.41 211.94,322.03 C209.52,325.65 207.33,329.61 205.42,333.39 C203.51,337.16 201.74,341.08 200.47,344.69 C199.20,348.29 198.69,351.62 197.79,355.00 C196.89,358.38 195.94,361.22 195.07,364.94 C194.19,368.66 193.38,372.23 192.55,377.30 C191.71,382.37 190.87,388.89 190.04,395.38 C189.20,401.87 188.16,409.81 187.53,416.23 C186.90,422.65 186.68,429.94 186.26,433.90 C185.84,437.86 185.46,440.98 185.00,440.00 C184.54,439.02 184.00,427.17 183.50,428.00 C183.00,428.83 182.50,444.67 182.00,445.00 C181.50,445.33 181.00,430.67 180.50,430.00 C180.00,429.33 179.50,441.67 179.00,441.00 C178.50,440.33 178.00,426.83 177.50,426.00 C177.00,425.17 176.50,435.67 176.00,436.00 C175.50,436.33 175.00,427.83 174.50,428.00 C174.00,428.17 173.50,437.50 173.00,437.00 C172.50,436.50 171.75,427.00 171.50,425.00" stroke="#6f78f0" stroke-width="0.95" fill="none" stroke-linejoin="round"/>
<path d="M289.20,276.30 C286.83,276.88 279.87,278.35 275.00,279.80 C270.13,281.25 264.25,283.52 260.00,285.00 C255.75,286.48 252.67,287.17 249.50,288.70 C246.33,290.23 244.25,291.95 241.00,294.20 C237.75,296.45 233.42,299.27 230.00,302.20 C226.58,305.13 223.42,308.47 220.50,311.80 C217.58,315.13 214.92,318.58 212.50,322.20 C210.08,325.82 207.92,329.73 206.00,333.50 C204.08,337.27 202.28,341.22 201.00,344.80 C199.72,348.38 199.22,351.63 198.30,355.00 C197.38,358.37 196.40,361.28 195.50,365.00 C194.60,368.72 193.77,372.18 192.90,377.30 C192.03,382.42 191.17,389.13 190.30,395.70 C189.43,402.27 188.35,410.15 187.70,416.70 C187.05,423.25 186.77,430.78 186.40,435.00 C186.03,439.22 185.90,442.83 185.50,442.00 C185.10,441.17 184.50,430.33 184.00,430.00 C183.50,429.67 183.00,440.83 182.50,440.00 C182.00,439.17 181.50,425.33 181.00,425.00 C180.50,424.67 180.00,438.17 179.50,438.00 C179.00,437.83 178.50,424.50 178.00,424.00 C177.50,423.50 177.00,435.17 176.50,435.00 C176.00,434.83 175.50,423.83 175.00,423.00 C174.50,422.17 174.00,430.50 173.50,430.00 C173.00,429.50 172.42,423.00 172.00,420.00 C171.58,417.00 171.25,414.33 171.00,412.00 C170.75,409.67 170.58,407.00 170.50,406.00" stroke="#2e52f0" stroke-width="1.6" fill="none" stroke-linejoin="round"/>
<defs><linearGradient id="gElc" gradientUnits="userSpaceOnUse" x1="75" y1="0" x2="120" y2="0"><stop offset="0" stop-color="#eedcb8"/><stop offset="0.5" stop-color="#ecd3a2"/><stop offset="1" stop-color="#e8c08a"/></linearGradient></defs>
<rect x="75.5" y="384.0" width="63.1" height="54.5" fill="#8a6a86"/>
<polygon points="86.8,404.0 93.0,396.0 113.0,395.4 122.0,397.0 129.9,412.0 126.0,428.0 115.0,434.9 95.0,434.5 88.0,428.0" fill="#8066b8" />
<polygon points="75.5,394.6 95.5,403.0 118.5,403.4 119.8,405.0 119.8,410.2 118.5,411.8 89.0,411.5 75.5,408.8" fill="url(#gElc)" />
<polygon points="75.5,421.2 91.9,416.6 118.5,416.6 119.8,418.2 119.8,423.2 118.5,424.6 93.4,424.6 75.5,431.8" fill="url(#gElc)" />
<text x="111.6" y="431.3" font-size="11.2" fill="#fff" font-family="Liberation Serif, serif">10 μm</text>
<rect x="118.2" y="434.1" width="14.8" height="2.9" fill="#fff"/>
<rect x="111" y="392" width="4" height="2" fill="#40b8e8"/>
<rect x="195.3" y="383.8" width="62.6" height="53.0" fill="#6f6aa2"/>
<polygon points="214.0,386.0 232.0,386.0 236.0,392.0 236.0,432.0 216.0,433.0" fill="#7668ae" />
<polygon points="257.9,389.8 236.0,398.5 210.5,399.4 209.4,401.0 209.4,407.0 210.5,408.5 236.0,408.5 257.9,403.0" fill="#dedad6" />
<polygon points="257.9,413.5 236.0,415.0 210.5,415.0 209.4,416.5 209.4,424.5 210.5,425.7 236.0,425.7 257.9,431.5" fill="#dedad6" />
<text x="230.6" y="428.7" font-size="11.2" fill="#fff" font-family="Liberation Serif, serif">10 μm</text>
<rect x="236.7" y="432.3" width="16.1" height="2.9" fill="#fff"/>
<rect x="216" y="388" width="6" height="2" fill="#3050e0"/>
<rect x="51.0" y="266.3" width="238.00" height="189.90" fill="none" stroke="#262626" stroke-width="1.2"/>
<line x1="170.00" y1="266.30" x2="170.00" y2="456.20" stroke="#262626" stroke-width="1.2" />
<line x1="47.80" y1="456.20" x2="51.00" y2="456.20" stroke="#262626" stroke-width="1.2" />
<line x1="289.00" y1="456.20" x2="292.20" y2="456.20" stroke="#262626" stroke-width="1.2" />
<line x1="49.20" y1="450.48" x2="51.00" y2="450.48" stroke="#262626" stroke-width="0.9" />
<line x1="289.00" y1="450.48" x2="290.80" y2="450.48" stroke="#262626" stroke-width="0.9" />
<line x1="49.20" y1="447.14" x2="51.00" y2="447.14" stroke="#262626" stroke-width="0.9" />
<line x1="289.00" y1="447.14" x2="290.80" y2="447.14" stroke="#262626" stroke-width="0.9" />
<line x1="49.20" y1="444.77" x2="51.00" y2="444.77" stroke="#262626" stroke-width="0.9" />
<line x1="289.00" y1="444.77" x2="290.80" y2="444.77" stroke="#262626" stroke-width="0.9" />
<line x1="49.20" y1="442.93" x2="51.00" y2="442.93" stroke="#262626" stroke-width="0.9" />
<line x1="289.00" y1="442.93" x2="290.80" y2="442.93" stroke="#262626" stroke-width="0.9" />
<line x1="49.20" y1="441.42" x2="51.00" y2="441.42" stroke="#262626" stroke-width="0.9" />
<line x1="289.00" y1="441.42" x2="290.80" y2="441.42" stroke="#262626" stroke-width="0.9" />
<line x1="49.20" y1="440.15" x2="51.00" y2="440.15" stroke="#262626" stroke-width="0.9" />
<line x1="289.00" y1="440.15" x2="290.80" y2="440.15" stroke="#262626" stroke-width="0.9" />
<line x1="49.20" y1="439.05" x2="51.00" y2="439.05" stroke="#262626" stroke-width="0.9" />
<line x1="289.00" y1="439.05" x2="290.80" y2="439.05" stroke="#262626" stroke-width="0.9" />
<line x1="49.20" y1="438.08" x2="51.00" y2="438.08" stroke="#262626" stroke-width="0.9" />
<line x1="289.00" y1="438.08" x2="290.80" y2="438.08" stroke="#262626" stroke-width="0.9" />
<text x="45.00" y="462.10" font-size="14" text-anchor="end" fill="#000">10<tspan font-size="9.8" dy="-6.2">-8</tspan></text>
<text x="295.50" y="462.10" font-size="14" text-anchor="start" fill="#000">10<tspan font-size="9.8" dy="-6.2">-8</tspan></text>
<line x1="47.80" y1="437.21" x2="51.00" y2="437.21" stroke="#262626" stroke-width="1.2" />
<line x1="289.00" y1="437.21" x2="292.20" y2="437.21" stroke="#262626" stroke-width="1.2" />
<line x1="49.20" y1="431.49" x2="51.00" y2="431.49" stroke="#262626" stroke-width="0.9" />
<line x1="289.00" y1="431.49" x2="290.80" y2="431.49" stroke="#262626" stroke-width="0.9" />
<line x1="49.20" y1="428.15" x2="51.00" y2="428.15" stroke="#262626" stroke-width="0.9" />
<line x1="289.00" y1="428.15" x2="290.80" y2="428.15" stroke="#262626" stroke-width="0.9" />
<line x1="49.20" y1="425.78" x2="51.00" y2="425.78" stroke="#262626" stroke-width="0.9" />
<line x1="289.00" y1="425.78" x2="290.80" y2="425.78" stroke="#262626" stroke-width="0.9" />
<line x1="49.20" y1="423.94" x2="51.00" y2="423.94" stroke="#262626" stroke-width="0.9" />
<line x1="289.00" y1="423.94" x2="290.80" y2="423.94" stroke="#262626" stroke-width="0.9" />
<line x1="49.20" y1="422.43" x2="51.00" y2="422.43" stroke="#262626" stroke-width="0.9" />
<line x1="289.00" y1="422.43" x2="290.80" y2="422.43" stroke="#262626" stroke-width="0.9" />
<line x1="49.20" y1="421.16" x2="51.00" y2="421.16" stroke="#262626" stroke-width="0.9" />
<line x1="289.00" y1="421.16" x2="290.80" y2="421.16" stroke="#262626" stroke-width="0.9" />
<line x1="49.20" y1="420.06" x2="51.00" y2="420.06" stroke="#262626" stroke-width="0.9" />
<line x1="289.00" y1="420.06" x2="290.80" y2="420.06" stroke="#262626" stroke-width="0.9" />
<line x1="49.20" y1="419.09" x2="51.00" y2="419.09" stroke="#262626" stroke-width="0.9" />
<line x1="289.00" y1="419.09" x2="290.80" y2="419.09" stroke="#262626" stroke-width="0.9" />
<line x1="47.80" y1="418.22" x2="51.00" y2="418.22" stroke="#262626" stroke-width="1.2" />
<line x1="289.00" y1="418.22" x2="292.20" y2="418.22" stroke="#262626" stroke-width="1.2" />
<line x1="49.20" y1="412.50" x2="51.00" y2="412.50" stroke="#262626" stroke-width="0.9" />
<line x1="289.00" y1="412.50" x2="290.80" y2="412.50" stroke="#262626" stroke-width="0.9" />
<line x1="49.20" y1="409.16" x2="51.00" y2="409.16" stroke="#262626" stroke-width="0.9" />
<line x1="289.00" y1="409.16" x2="290.80" y2="409.16" stroke="#262626" stroke-width="0.9" />
<line x1="49.20" y1="406.79" x2="51.00" y2="406.79" stroke="#262626" stroke-width="0.9" />
<line x1="289.00" y1="406.79" x2="290.80" y2="406.79" stroke="#262626" stroke-width="0.9" />
<line x1="49.20" y1="404.95" x2="51.00" y2="404.95" stroke="#262626" stroke-width="0.9" />
<line x1="289.00" y1="404.95" x2="290.80" y2="404.95" stroke="#262626" stroke-width="0.9" />
<line x1="49.20" y1="403.44" x2="51.00" y2="403.44" stroke="#262626" stroke-width="0.9" />
<line x1="289.00" y1="403.44" x2="290.80" y2="403.44" stroke="#262626" stroke-width="0.9" />
<line x1="49.20" y1="402.17" x2="51.00" y2="402.17" stroke="#262626" stroke-width="0.9" />
<line x1="289.00" y1="402.17" x2="290.80" y2="402.17" stroke="#262626" stroke-width="0.9" />
<line x1="49.20" y1="401.07" x2="51.00" y2="401.07" stroke="#262626" stroke-width="0.9" />
<line x1="289.00" y1="401.07" x2="290.80" y2="401.07" stroke="#262626" stroke-width="0.9" />
<line x1="49.20" y1="400.10" x2="51.00" y2="400.10" stroke="#262626" stroke-width="0.9" />
<line x1="289.00" y1="400.10" x2="290.80" y2="400.10" stroke="#262626" stroke-width="0.9" />
<text x="45.00" y="424.12" font-size="14" text-anchor="end" fill="#000">10<tspan font-size="9.8" dy="-6.2">-6</tspan></text>
<text x="295.50" y="424.12" font-size="14" text-anchor="start" fill="#000">10<tspan font-size="9.8" dy="-6.2">-6</tspan></text>
<line x1="47.80" y1="399.23" x2="51.00" y2="399.23" stroke="#262626" stroke-width="1.2" />
<line x1="289.00" y1="399.23" x2="292.20" y2="399.23" stroke="#262626" stroke-width="1.2" />
<line x1="49.20" y1="393.51" x2="51.00" y2="393.51" stroke="#262626" stroke-width="0.9" />
<line x1="289.00" y1="393.51" x2="290.80" y2="393.51" stroke="#262626" stroke-width="0.9" />
<line x1="49.20" y1="390.17" x2="51.00" y2="390.17" stroke="#262626" stroke-width="0.9" />
<line x1="289.00" y1="390.17" x2="290.80" y2="390.17" stroke="#262626" stroke-width="0.9" />
<line x1="49.20" y1="387.80" x2="51.00" y2="387.80" stroke="#262626" stroke-width="0.9" />
<line x1="289.00" y1="387.80" x2="290.80" y2="387.80" stroke="#262626" stroke-width="0.9" />
<line x1="49.20" y1="385.96" x2="51.00" y2="385.96" stroke="#262626" stroke-width="0.9" />
<line x1="289.00" y1="385.96" x2="290.80" y2="385.96" stroke="#262626" stroke-width="0.9" />
<line x1="49.20" y1="384.45" x2="51.00" y2="384.45" stroke="#262626" stroke-width="0.9" />
<line x1="289.00" y1="384.45" x2="290.80" y2="384.45" stroke="#262626" stroke-width="0.9" />
<line x1="49.20" y1="383.18" x2="51.00" y2="383.18" stroke="#262626" stroke-width="0.9" />
<line x1="289.00" y1="383.18" x2="290.80" y2="383.18" stroke="#262626" stroke-width="0.9" />
<line x1="49.20" y1="382.08" x2="51.00" y2="382.08" stroke="#262626" stroke-width="0.9" />
<line x1="289.00" y1="382.08" x2="290.80" y2="382.08" stroke="#262626" stroke-width="0.9" />
<line x1="49.20" y1="381.11" x2="51.00" y2="381.11" stroke="#262626" stroke-width="0.9" />
<line x1="289.00" y1="381.11" x2="290.80" y2="381.11" stroke="#262626" stroke-width="0.9" />
<line x1="47.80" y1="380.24" x2="51.00" y2="380.24" stroke="#262626" stroke-width="1.2" />
<line x1="289.00" y1="380.24" x2="292.20" y2="380.24" stroke="#262626" stroke-width="1.2" />
<line x1="49.20" y1="374.52" x2="51.00" y2="374.52" stroke="#262626" stroke-width="0.9" />
<line x1="289.00" y1="374.52" x2="290.80" y2="374.52" stroke="#262626" stroke-width="0.9" />
<line x1="49.20" y1="371.18" x2="51.00" y2="371.18" stroke="#262626" stroke-width="0.9" />
<line x1="289.00" y1="371.18" x2="290.80" y2="371.18" stroke="#262626" stroke-width="0.9" />
<line x1="49.20" y1="368.81" x2="51.00" y2="368.81" stroke="#262626" stroke-width="0.9" />
<line x1="289.00" y1="368.81" x2="290.80" y2="368.81" stroke="#262626" stroke-width="0.9" />
<line x1="49.20" y1="366.97" x2="51.00" y2="366.97" stroke="#262626" stroke-width="0.9" />
<line x1="289.00" y1="366.97" x2="290.80" y2="366.97" stroke="#262626" stroke-width="0.9" />
<line x1="49.20" y1="365.46" x2="51.00" y2="365.46" stroke="#262626" stroke-width="0.9" />
<line x1="289.00" y1="365.46" x2="290.80" y2="365.46" stroke="#262626" stroke-width="0.9" />
<line x1="49.20" y1="364.19" x2="51.00" y2="364.19" stroke="#262626" stroke-width="0.9" />
<line x1="289.00" y1="364.19" x2="290.80" y2="364.19" stroke="#262626" stroke-width="0.9" />
<line x1="49.20" y1="363.09" x2="51.00" y2="363.09" stroke="#262626" stroke-width="0.9" />
<line x1="289.00" y1="363.09" x2="290.80" y2="363.09" stroke="#262626" stroke-width="0.9" />
<line x1="49.20" y1="362.12" x2="51.00" y2="362.12" stroke="#262626" stroke-width="0.9" />
<line x1="289.00" y1="362.12" x2="290.80" y2="362.12" stroke="#262626" stroke-width="0.9" />
<text x="45.00" y="386.14" font-size="14" text-anchor="end" fill="#000">10<tspan font-size="9.8" dy="-6.2">-4</tspan></text>
<text x="295.50" y="386.14" font-size="14" text-anchor="start" fill="#000">10<tspan font-size="9.8" dy="-6.2">-4</tspan></text>
<line x1="47.80" y1="361.25" x2="51.00" y2="361.25" stroke="#262626" stroke-width="1.2" />
<line x1="289.00" y1="361.25" x2="292.20" y2="361.25" stroke="#262626" stroke-width="1.2" />
<line x1="49.20" y1="355.53" x2="51.00" y2="355.53" stroke="#262626" stroke-width="0.9" />
<line x1="289.00" y1="355.53" x2="290.80" y2="355.53" stroke="#262626" stroke-width="0.9" />
<line x1="49.20" y1="352.19" x2="51.00" y2="352.19" stroke="#262626" stroke-width="0.9" />
<line x1="289.00" y1="352.19" x2="290.80" y2="352.19" stroke="#262626" stroke-width="0.9" />
<line x1="49.20" y1="349.82" x2="51.00" y2="349.82" stroke="#262626" stroke-width="0.9" />
<line x1="289.00" y1="349.82" x2="290.80" y2="349.82" stroke="#262626" stroke-width="0.9" />
<line x1="49.20" y1="347.98" x2="51.00" y2="347.98" stroke="#262626" stroke-width="0.9" />
<line x1="289.00" y1="347.98" x2="290.80" y2="347.98" stroke="#262626" stroke-width="0.9" />
<line x1="49.20" y1="346.47" x2="51.00" y2="346.47" stroke="#262626" stroke-width="0.9" />
<line x1="289.00" y1="346.47" x2="290.80" y2="346.47" stroke="#262626" stroke-width="0.9" />
<line x1="49.20" y1="345.20" x2="51.00" y2="345.20" stroke="#262626" stroke-width="0.9" />
<line x1="289.00" y1="345.20" x2="290.80" y2="345.20" stroke="#262626" stroke-width="0.9" />
<line x1="49.20" y1="344.10" x2="51.00" y2="344.10" stroke="#262626" stroke-width="0.9" />
<line x1="289.00" y1="344.10" x2="290.80" y2="344.10" stroke="#262626" stroke-width="0.9" />
<line x1="49.20" y1="343.13" x2="51.00" y2="343.13" stroke="#262626" stroke-width="0.9" />
<line x1="289.00" y1="343.13" x2="290.80" y2="343.13" stroke="#262626" stroke-width="0.9" />
<line x1="47.80" y1="342.26" x2="51.00" y2="342.26" stroke="#262626" stroke-width="1.2" />
<line x1="289.00" y1="342.26" x2="292.20" y2="342.26" stroke="#262626" stroke-width="1.2" />
<line x1="49.20" y1="336.54" x2="51.00" y2="336.54" stroke="#262626" stroke-width="0.9" />
<line x1="289.00" y1="336.54" x2="290.80" y2="336.54" stroke="#262626" stroke-width="0.9" />
<line x1="49.20" y1="333.20" x2="51.00" y2="333.20" stroke="#262626" stroke-width="0.9" />
<line x1="289.00" y1="333.20" x2="290.80" y2="333.20" stroke="#262626" stroke-width="0.9" />
<line x1="49.20" y1="330.83" x2="51.00" y2="330.83" stroke="#262626" stroke-width="0.9" />
<line x1="289.00" y1="330.83" x2="290.80" y2="330.83" stroke="#262626" stroke-width="0.9" />
<line x1="49.20" y1="328.99" x2="51.00" y2="328.99" stroke="#262626" stroke-width="0.9" />
<line x1="289.00" y1="328.99" x2="290.80" y2="328.99" stroke="#262626" stroke-width="0.9" />
<line x1="49.20" y1="327.48" x2="51.00" y2="327.48" stroke="#262626" stroke-width="0.9" />
<line x1="289.00" y1="327.48" x2="290.80" y2="327.48" stroke="#262626" stroke-width="0.9" />
<line x1="49.20" y1="326.21" x2="51.00" y2="326.21" stroke="#262626" stroke-width="0.9" />
<line x1="289.00" y1="326.21" x2="290.80" y2="326.21" stroke="#262626" stroke-width="0.9" />
<line x1="49.20" y1="325.11" x2="51.00" y2="325.11" stroke="#262626" stroke-width="0.9" />
<line x1="289.00" y1="325.11" x2="290.80" y2="325.11" stroke="#262626" stroke-width="0.9" />
<line x1="49.20" y1="324.14" x2="51.00" y2="324.14" stroke="#262626" stroke-width="0.9" />
<line x1="289.00" y1="324.14" x2="290.80" y2="324.14" stroke="#262626" stroke-width="0.9" />
<text x="45.00" y="348.16" font-size="14" text-anchor="end" fill="#000">10<tspan font-size="9.8" dy="-6.2">-2</tspan></text>
<text x="295.50" y="348.16" font-size="14" text-anchor="start" fill="#000">10<tspan font-size="9.8" dy="-6.2">-2</tspan></text>
<line x1="47.80" y1="323.27" x2="51.00" y2="323.27" stroke="#262626" stroke-width="1.2" />
<line x1="289.00" y1="323.27" x2="292.20" y2="323.27" stroke="#262626" stroke-width="1.2" />
<line x1="49.20" y1="317.55" x2="51.00" y2="317.55" stroke="#262626" stroke-width="0.9" />
<line x1="289.00" y1="317.55" x2="290.80" y2="317.55" stroke="#262626" stroke-width="0.9" />
<line x1="49.20" y1="314.21" x2="51.00" y2="314.21" stroke="#262626" stroke-width="0.9" />
<line x1="289.00" y1="314.21" x2="290.80" y2="314.21" stroke="#262626" stroke-width="0.9" />
<line x1="49.20" y1="311.84" x2="51.00" y2="311.84" stroke="#262626" stroke-width="0.9" />
<line x1="289.00" y1="311.84" x2="290.80" y2="311.84" stroke="#262626" stroke-width="0.9" />
<line x1="49.20" y1="310.00" x2="51.00" y2="310.00" stroke="#262626" stroke-width="0.9" />
<line x1="289.00" y1="310.00" x2="290.80" y2="310.00" stroke="#262626" stroke-width="0.9" />
<line x1="49.20" y1="308.49" x2="51.00" y2="308.49" stroke="#262626" stroke-width="0.9" />
<line x1="289.00" y1="308.49" x2="290.80" y2="308.49" stroke="#262626" stroke-width="0.9" />
<line x1="49.20" y1="307.22" x2="51.00" y2="307.22" stroke="#262626" stroke-width="0.9" />
<line x1="289.00" y1="307.22" x2="290.80" y2="307.22" stroke="#262626" stroke-width="0.9" />
<line x1="49.20" y1="306.12" x2="51.00" y2="306.12" stroke="#262626" stroke-width="0.9" />
<line x1="289.00" y1="306.12" x2="290.80" y2="306.12" stroke="#262626" stroke-width="0.9" />
<line x1="49.20" y1="305.15" x2="51.00" y2="305.15" stroke="#262626" stroke-width="0.9" />
<line x1="289.00" y1="305.15" x2="290.80" y2="305.15" stroke="#262626" stroke-width="0.9" />
<line x1="47.80" y1="304.28" x2="51.00" y2="304.28" stroke="#262626" stroke-width="1.2" />
<line x1="289.00" y1="304.28" x2="292.20" y2="304.28" stroke="#262626" stroke-width="1.2" />
<line x1="49.20" y1="298.56" x2="51.00" y2="298.56" stroke="#262626" stroke-width="0.9" />
<line x1="289.00" y1="298.56" x2="290.80" y2="298.56" stroke="#262626" stroke-width="0.9" />
<line x1="49.20" y1="295.22" x2="51.00" y2="295.22" stroke="#262626" stroke-width="0.9" />
<line x1="289.00" y1="295.22" x2="290.80" y2="295.22" stroke="#262626" stroke-width="0.9" />
<line x1="49.20" y1="292.85" x2="51.00" y2="292.85" stroke="#262626" stroke-width="0.9" />
<line x1="289.00" y1="292.85" x2="290.80" y2="292.85" stroke="#262626" stroke-width="0.9" />
<line x1="49.20" y1="291.01" x2="51.00" y2="291.01" stroke="#262626" stroke-width="0.9" />
<line x1="289.00" y1="291.01" x2="290.80" y2="291.01" stroke="#262626" stroke-width="0.9" />
<line x1="49.20" y1="289.50" x2="51.00" y2="289.50" stroke="#262626" stroke-width="0.9" />
<line x1="289.00" y1="289.50" x2="290.80" y2="289.50" stroke="#262626" stroke-width="0.9" />
<line x1="49.20" y1="288.23" x2="51.00" y2="288.23" stroke="#262626" stroke-width="0.9" />
<line x1="289.00" y1="288.23" x2="290.80" y2="288.23" stroke="#262626" stroke-width="0.9" />
<line x1="49.20" y1="287.13" x2="51.00" y2="287.13" stroke="#262626" stroke-width="0.9" />
<line x1="289.00" y1="287.13" x2="290.80" y2="287.13" stroke="#262626" stroke-width="0.9" />
<line x1="49.20" y1="286.16" x2="51.00" y2="286.16" stroke="#262626" stroke-width="0.9" />
<line x1="289.00" y1="286.16" x2="290.80" y2="286.16" stroke="#262626" stroke-width="0.9" />
<text x="45.00" y="310.18" font-size="14" text-anchor="end" fill="#000">10<tspan font-size="9.8" dy="-6.2">0</tspan></text>
<text x="295.50" y="310.18" font-size="14" text-anchor="start" fill="#000">10<tspan font-size="9.8" dy="-6.2">0</tspan></text>
<line x1="47.80" y1="285.29" x2="51.00" y2="285.29" stroke="#262626" stroke-width="1.2" />
<line x1="289.00" y1="285.29" x2="292.20" y2="285.29" stroke="#262626" stroke-width="1.2" />
<line x1="49.20" y1="279.57" x2="51.00" y2="279.57" stroke="#262626" stroke-width="0.9" />
<line x1="289.00" y1="279.57" x2="290.80" y2="279.57" stroke="#262626" stroke-width="0.9" />
<line x1="49.20" y1="276.23" x2="51.00" y2="276.23" stroke="#262626" stroke-width="0.9" />
<line x1="289.00" y1="276.23" x2="290.80" y2="276.23" stroke="#262626" stroke-width="0.9" />
<line x1="49.20" y1="273.86" x2="51.00" y2="273.86" stroke="#262626" stroke-width="0.9" />
<line x1="289.00" y1="273.86" x2="290.80" y2="273.86" stroke="#262626" stroke-width="0.9" />
<line x1="49.20" y1="272.02" x2="51.00" y2="272.02" stroke="#262626" stroke-width="0.9" />
<line x1="289.00" y1="272.02" x2="290.80" y2="272.02" stroke="#262626" stroke-width="0.9" />
<line x1="49.20" y1="270.51" x2="51.00" y2="270.51" stroke="#262626" stroke-width="0.9" />
<line x1="289.00" y1="270.51" x2="290.80" y2="270.51" stroke="#262626" stroke-width="0.9" />
<line x1="49.20" y1="269.24" x2="51.00" y2="269.24" stroke="#262626" stroke-width="0.9" />
<line x1="289.00" y1="269.24" x2="290.80" y2="269.24" stroke="#262626" stroke-width="0.9" />
<line x1="49.20" y1="268.14" x2="51.00" y2="268.14" stroke="#262626" stroke-width="0.9" />
<line x1="289.00" y1="268.14" x2="290.80" y2="268.14" stroke="#262626" stroke-width="0.9" />
<line x1="49.20" y1="267.17" x2="51.00" y2="267.17" stroke="#262626" stroke-width="0.9" />
<line x1="289.00" y1="267.17" x2="290.80" y2="267.17" stroke="#262626" stroke-width="0.9" />
<line x1="47.80" y1="266.30" x2="51.00" y2="266.30" stroke="#262626" stroke-width="1.2" />
<line x1="289.00" y1="266.30" x2="292.20" y2="266.30" stroke="#262626" stroke-width="1.2" />
<text x="45.00" y="272.20" font-size="14" text-anchor="end" fill="#000">10<tspan font-size="9.8" dy="-6.2">2</tspan></text>
<text x="295.50" y="272.20" font-size="14" text-anchor="start" fill="#000">10<tspan font-size="9.8" dy="-6.2">2</tspan></text>
<line x1="62.90" y1="456.20" x2="62.90" y2="459.40" stroke="#262626" stroke-width="1.2" />
<text x="62.60" y="473.50" font-size="13.2" fill="#000" text-anchor="middle" >-40</text>
<line x1="74.80" y1="456.20" x2="74.80" y2="458.20" stroke="#262626" stroke-width="1.2" />
<line x1="86.70" y1="456.20" x2="86.70" y2="459.40" stroke="#262626" stroke-width="1.2" />
<text x="86.40" y="473.50" font-size="13.2" fill="#000" text-anchor="middle" >-20</text>
<line x1="98.60" y1="456.20" x2="98.60" y2="458.20" stroke="#262626" stroke-width="1.2" />
<line x1="110.50" y1="456.20" x2="110.50" y2="459.40" stroke="#262626" stroke-width="1.2" />
<text x="110.50" y="473.50" font-size="13.2" fill="#000" text-anchor="middle" >0</text>
<line x1="122.40" y1="456.20" x2="122.40" y2="458.20" stroke="#262626" stroke-width="1.2" />
<line x1="134.30" y1="456.20" x2="134.30" y2="459.40" stroke="#262626" stroke-width="1.2" />
<text x="134.30" y="473.50" font-size="13.2" fill="#000" text-anchor="middle" >20</text>
<line x1="146.20" y1="456.20" x2="146.20" y2="458.20" stroke="#262626" stroke-width="1.2" />
<line x1="158.10" y1="456.20" x2="158.10" y2="459.40" stroke="#262626" stroke-width="1.2" />
<text x="158.10" y="473.50" font-size="13.2" fill="#000" text-anchor="middle" >40</text>
<text x="111.00" y="488.3" font-size="14.3" text-anchor="middle" fill="#000"><tspan font-style="italic">V</tspan><tspan font-size="10" dy="3.2">bg</tspan><tspan dy="-3.2"> (V)</tspan></text>
<line x1="181.90" y1="456.20" x2="181.90" y2="459.40" stroke="#262626" stroke-width="1.2" />
<text x="181.60" y="473.50" font-size="13.2" fill="#000" text-anchor="middle" >-40</text>
<line x1="193.80" y1="456.20" x2="193.80" y2="458.20" stroke="#262626" stroke-width="1.2" />
<line x1="205.70" y1="456.20" x2="205.70" y2="459.40" stroke="#262626" stroke-width="1.2" />
<text x="205.40" y="473.50" font-size="13.2" fill="#000" text-anchor="middle" >-20</text>
<line x1="217.60" y1="456.20" x2="217.60" y2="458.20" stroke="#262626" stroke-width="1.2" />
<line x1="229.50" y1="456.20" x2="229.50" y2="459.40" stroke="#262626" stroke-width="1.2" />
<text x="229.50" y="473.50" font-size="13.2" fill="#000" text-anchor="middle" >0</text>
<line x1="241.40" y1="456.20" x2="241.40" y2="458.20" stroke="#262626" stroke-width="1.2" />
<line x1="253.30" y1="456.20" x2="253.30" y2="459.40" stroke="#262626" stroke-width="1.2" />
<text x="253.30" y="473.50" font-size="13.2" fill="#000" text-anchor="middle" >20</text>
<line x1="265.20" y1="456.20" x2="265.20" y2="458.20" stroke="#262626" stroke-width="1.2" />
<line x1="277.10" y1="456.20" x2="277.10" y2="459.40" stroke="#262626" stroke-width="1.2" />
<text x="277.10" y="473.50" font-size="13.2" fill="#000" text-anchor="middle" >40</text>
<text x="230.00" y="488.3" font-size="14.3" text-anchor="middle" fill="#000"><tspan font-style="italic">V</tspan><tspan font-size="10" dy="3.2">bg</tspan><tspan dy="-3.2"> (V)</tspan></text>
<text transform="translate(12.5,360.9) rotate(-90)" font-size="14.5" text-anchor="middle" fill="#000"><tspan font-style="italic">I</tspan><tspan font-size="10" dy="3">ds</tspan><tspan dy="-3"> (μA/μm)</tspan></text>
<text transform="translate(325.8,363.0) rotate(90)" font-size="14.5" text-anchor="middle" fill="#000"><tspan font-style="italic">I</tspan><tspan font-size="10" dy="3">ds</tspan><tspan dy="-3"> (μA/μm)</tspan></text>
<text x="54.4" y="276.7" font-size="9.35" fill="#ff1a1a">MoS<tspan font-size="7" dy="2">2</tspan><tspan dy="-2"> With Mn</tspan><tspan font-size="7" dy="2">3</tspan><tspan dy="-2">O</tspan><tspan font-size="7" dy="2">4</tspan></text>
<text x="173.0" y="277.1" font-size="9.4" fill="#3050f0">MoS<tspan font-size="7" dy="2">2</tspan><tspan dy="-2"> W/O Mn</tspan><tspan font-size="7" dy="2">3</tspan><tspan dy="-2">O</tspan><tspan font-size="7" dy="2">4</tspan></text>
<text x="64.1" y="291.6" font-size="9.6" fill="#000"><tspan font-style="italic">V</tspan><tspan font-size="7" dy="2">ds</tspan><tspan dy="-2"> = 1 V</tspan></text>
<text x="185.2" y="291.6" font-size="9.6" fill="#000"><tspan font-style="italic">V</tspan><tspan font-size="7" dy="2">ds</tspan><tspan dy="-2"> = 1 V</tspan></text>
<text x="166.3" y="315.20" font-size="9.5" text-anchor="end" fill="#000"><tspan font-style="italic">T</tspan> = <tspan fill="#2e52f0">80 K</tspan></text>
<text x="166.30" y="326.77" font-size="9.5" fill="#6f78f0" text-anchor="end" >100 K</text>
<text x="166.30" y="338.34" font-size="9.5" fill="#a3a8f2" text-anchor="end" >120 K</text>
<text x="166.30" y="349.91" font-size="9.5" fill="#3fb0f0" text-anchor="end" >140 K</text>
<text x="166.30" y="361.48" font-size="9.5" fill="#c6e2f8" text-anchor="end" >160 K</text>
<text x="166.30" y="373.05" font-size="9.5" fill="#2ee02e" text-anchor="end" >180 K</text>
<text x="166.30" y="384.62" font-size="9.5" fill="#a6e06a" text-anchor="end" >200 K</text>
<text x="166.30" y="396.19" font-size="9.5" fill="#f2e070" text-anchor="end" >220 K</text>
<text x="166.30" y="407.76" font-size="9.5" fill="#f8b896" text-anchor="end" >240 K</text>
<text x="166.30" y="419.33" font-size="9.5" fill="#f88484" text-anchor="end" >260 K</text>
<text x="166.30" y="430.90" font-size="9.5" fill="#f25050" text-anchor="end" >280 K</text>
<text x="166.30" y="442.47" font-size="9.5" fill="#f00000" text-anchor="end" >300 K</text>
<text x="112.6" y="337.3" font-size="10.2" text-anchor="middle" fill="#000"><tspan font-style="italic">W</tspan><tspan font-size="7.2" dy="2">ch</tspan><tspan dy="-2">/</tspan><tspan font-style="italic">L</tspan><tspan font-size="7.2" dy="2">ch</tspan><tspan dy="-2"> =</tspan></text>
<text x="113.0" y="349.2" font-size="9.8" text-anchor="middle" fill="#000">8 μm/2 μm</text>
<text x="285.3" y="316.90" font-size="9.5" text-anchor="end" fill="#000"><tspan font-style="italic">T</tspan> = <tspan fill="#2e52f0">80 K</tspan></text>
<text x="285.30" y="328.47" font-size="9.5" fill="#6f78f0" text-anchor="end" >100 K</text>
<text x="285.30" y="340.04" font-size="9.5" fill="#a3a8f2" text-anchor="end" >120 K</text>
<text x="285.30" y="351.61" font-size="9.5" fill="#3fb0f0" text-anchor="end" >140 K</text>
<text x="285.30" y="363.18" font-size="9.5" fill="#c6e2f8" text-anchor="end" >160 K</text>
<text x="285.30" y="374.75" font-size="9.5" fill="#2ee02e" text-anchor="end" >180 K</text>
<text x="285.30" y="386.32" font-size="9.5" fill="#a6e06a" text-anchor="end" >200 K</text>
<text x="285.30" y="397.89" font-size="9.5" fill="#f2e070" text-anchor="end" >220 K</text>
<text x="285.30" y="409.46" font-size="9.5" fill="#f8b896" text-anchor="end" >240 K</text>
<text x="285.30" y="421.03" font-size="9.5" fill="#f88484" text-anchor="end" >260 K</text>
<text x="285.30" y="432.60" font-size="9.5" fill="#f25050" text-anchor="end" >280 K</text>
<text x="285.30" y="444.17" font-size="9.5" fill="#f00000" text-anchor="end" >300 K</text>
<text x="231.1" y="337.3" font-size="10.2" text-anchor="middle" fill="#000"><tspan font-style="italic">W</tspan><tspan font-size="7.2" dy="2">ch</tspan><tspan dy="-2">/</tspan><tspan font-style="italic">L</tspan><tspan font-size="7.2" dy="2">ch</tspan><tspan dy="-2"> =</tspan></text>
<text x="231.5" y="349.2" font-size="9.8" text-anchor="middle" fill="#000">8 μm/2 μm</text>
</g>
<g font-family="Liberation Sans, sans-serif">
<rect x="409.1" y="266.5" width="238.50" height="189.80" fill="none" stroke="#2e2e2e" stroke-width="1.15"/>
<line x1="405.90" y1="456.30" x2="409.10" y2="456.30" stroke="#2e2e2e" stroke-width="1.2" />
<text x="402.90" y="461.00" font-size="13.5" fill="#000" text-anchor="end" >0</text>
<line x1="407.30" y1="432.57" x2="409.10" y2="432.57" stroke="#2e2e2e" stroke-width="1.2" />
<line x1="405.90" y1="408.85" x2="409.10" y2="408.85" stroke="#2e2e2e" stroke-width="1.2" />
<text x="402.90" y="413.55" font-size="13.5" fill="#000" text-anchor="end" >20</text>
<line x1="407.30" y1="385.12" x2="409.10" y2="385.12" stroke="#2e2e2e" stroke-width="1.2" />
<line x1="405.90" y1="361.40" x2="409.10" y2="361.40" stroke="#2e2e2e" stroke-width="1.2" />
<text x="402.90" y="366.10" font-size="13.5" fill="#000" text-anchor="end" >40</text>
<line x1="407.30" y1="337.68" x2="409.10" y2="337.68" stroke="#2e2e2e" stroke-width="1.2" />
<line x1="405.90" y1="313.95" x2="409.10" y2="313.95" stroke="#2e2e2e" stroke-width="1.2" />
<text x="402.90" y="318.65" font-size="13.5" fill="#000" text-anchor="end" >60</text>
<line x1="407.30" y1="290.23" x2="409.10" y2="290.23" stroke="#2e2e2e" stroke-width="1.2" />
<line x1="405.90" y1="266.50" x2="409.10" y2="266.50" stroke="#2e2e2e" stroke-width="1.2" />
<text x="402.90" y="271.20" font-size="13.5" fill="#000" text-anchor="end" >80</text>
<line x1="409.10" y1="456.30" x2="409.10" y2="459.50" stroke="#2e2e2e" stroke-width="1.2" />
<text x="409.10" y="473.60" font-size="13.5" fill="#000" text-anchor="middle" >60</text>
<line x1="437.73" y1="456.30" x2="437.73" y2="458.30" stroke="#2e2e2e" stroke-width="1.2" />
<line x1="466.35" y1="456.30" x2="466.35" y2="459.50" stroke="#2e2e2e" stroke-width="1.2" />
<text x="466.35" y="473.60" font-size="13.5" fill="#000" text-anchor="middle" >120</text>
<line x1="494.98" y1="456.30" x2="494.98" y2="458.30" stroke="#2e2e2e" stroke-width="1.2" />
<line x1="523.60" y1="456.30" x2="523.60" y2="459.50" stroke="#2e2e2e" stroke-width="1.2" />
<text x="523.60" y="473.60" font-size="13.5" fill="#000" text-anchor="middle" >180</text>
<line x1="552.23" y1="456.30" x2="552.23" y2="458.30" stroke="#2e2e2e" stroke-width="1.2" />
<line x1="580.86" y1="456.30" x2="580.86" y2="459.50" stroke="#2e2e2e" stroke-width="1.2" />
<text x="580.86" y="473.60" font-size="13.5" fill="#000" text-anchor="middle" >240</text>
<line x1="609.48" y1="456.30" x2="609.48" y2="458.30" stroke="#2e2e2e" stroke-width="1.2" />
<line x1="638.11" y1="456.30" x2="638.11" y2="459.50" stroke="#2e2e2e" stroke-width="1.2" />
<text x="638.11" y="473.60" font-size="13.5" fill="#000" text-anchor="middle" >300</text>
<text x="529.0" y="489.3" font-size="14" text-anchor="middle" fill="#000"><tspan font-style="italic">T</tspan> (K)</text>
<text transform="translate(380.3,360.6) rotate(-90)" font-size="15.2" text-anchor="middle" fill="#000"><tspan font-style="italic">μ</tspan><tspan font-size="10.8" dy="3.2">FET</tspan><tspan dy="-3.2"> (cm</tspan><tspan font-size="10.8" dy="-5.5">2</tspan><tspan dy="5.5">/Vs)</tspan></text>
<circle cx="428.18" cy="320.70" r="3.85" fill="none" stroke="#ff1f1f" stroke-width="1.4"/>
<circle cx="428.18" cy="407.20" r="3.85" fill="none" stroke="#1f1fff" stroke-width="1.4"/>
<circle cx="447.27" cy="324.00" r="3.85" fill="none" stroke="#ff1f1f" stroke-width="1.4"/>
<circle cx="447.27" cy="408.90" r="3.85" fill="none" stroke="#1f1fff" stroke-width="1.4"/>
<circle cx="466.35" cy="325.60" r="3.85" fill="none" stroke="#ff1f1f" stroke-width="1.4"/>
<circle cx="466.35" cy="409.40" r="3.85" fill="none" stroke="#1f1fff" stroke-width="1.4"/>
<circle cx="485.44" cy="328.40" r="3.85" fill="none" stroke="#ff1f1f" stroke-width="1.4"/>
<circle cx="485.44" cy="410.10" r="3.85" fill="none" stroke="#1f1fff" stroke-width="1.4"/>
<circle cx="504.52" cy="340.30" r="3.85" fill="none" stroke="#ff1f1f" stroke-width="1.4"/>
<circle cx="504.52" cy="412.10" r="3.85" fill="none" stroke="#1f1fff" stroke-width="1.4"/>
<circle cx="523.60" cy="352.00" r="3.85" fill="none" stroke="#ff1f1f" stroke-width="1.4"/>
<circle cx="523.60" cy="415.00" r="3.85" fill="none" stroke="#1f1fff" stroke-width="1.4"/>
<circle cx="542.69" cy="356.30" r="3.85" fill="none" stroke="#ff1f1f" stroke-width="1.4"/>
<circle cx="542.69" cy="416.40" r="3.85" fill="none" stroke="#1f1fff" stroke-width="1.4"/>
<circle cx="561.77" cy="366.40" r="3.85" fill="none" stroke="#ff1f1f" stroke-width="1.4"/>
<circle cx="561.77" cy="417.10" r="3.85" fill="none" stroke="#1f1fff" stroke-width="1.4"/>
<circle cx="580.86" cy="366.80" r="3.85" fill="none" stroke="#ff1f1f" stroke-width="1.4"/>
<circle cx="580.86" cy="420.30" r="3.85" fill="none" stroke="#1f1fff" stroke-width="1.4"/>
<circle cx="599.94" cy="385.30" r="3.85" fill="none" stroke="#ff1f1f" stroke-width="1.4"/>
<circle cx="599.94" cy="421.30" r="3.85" fill="none" stroke="#1f1fff" stroke-width="1.4"/>
<circle cx="619.02" cy="385.30" r="3.85" fill="none" stroke="#ff1f1f" stroke-width="1.4"/>
<circle cx="619.02" cy="424.30" r="3.85" fill="none" stroke="#1f1fff" stroke-width="1.4"/>
<circle cx="638.11" cy="393.60" r="3.85" fill="none" stroke="#ff1f1f" stroke-width="1.4"/>
<circle cx="638.11" cy="427.70" r="3.85" fill="none" stroke="#1f1fff" stroke-width="1.4"/>
<text x="433.7" y="310.6" font-size="11.6" fill="#ff1f1f">MoS<tspan font-size="8.6" dy="2.4">2</tspan><tspan dy="-2.4"> With Mn</tspan><tspan font-size="8.6" dy="2.4">3</tspan><tspan dy="-2.4">O</tspan><tspan font-size="8.6" dy="2.4">4</tspan></text>
<text x="434.5" y="395.5" font-size="11.6" fill="#3a1ef0">MoS<tspan font-size="8.6" dy="2.4">2</tspan><tspan dy="-2.4"> W/O Mn</tspan><tspan font-size="8.6" dy="2.4">3</tspan><tspan dy="-2.4">O</tspan><tspan font-size="8.6" dy="2.4">4</tspan></text>
</g>
<defs><linearGradient id="gTop" x1="0" y1="0" x2="0" y2="1"><stop offset="0" stop-color="#e4c8ea"/><stop offset="0.45" stop-color="#d8b4e0"/><stop offset="1" stop-color="#b88ac8"/></linearGradient><linearGradient id="gFR" x1="0" y1="0" x2="1" y2="0"><stop offset="0" stop-color="#b287c6"/><stop offset="1" stop-color="#b98ecf"/></linearGradient></defs>
<polygon points="40.0,81.6 278.6,74.5 278.6,90.8 80.8,112.9 40.0,98.7" fill="url(#gTop)" />
<polygon points="40.0,98.7 80.8,112.9 80.8,121.6 40.0,106.5" fill="#c29fd6" />
<polygon points="80.8,112.9 278.6,90.8 278.6,98.1 80.8,121.6" fill="url(#gFR)" />
<path d="M40.00,98.70 L80.80,112.90 L278.60,90.80" stroke="#e7a6ee" stroke-width="0.8" fill="none" />
<ellipse cx="53.0" cy="96.2" rx="2.4" ry="4.0" fill="#e09aa8" opacity="0.25"/>
<ellipse cx="48.5" cy="98.2" rx="1.8" ry="3.0" fill="#9a60d0" opacity="0.25"/>
<ellipse cx="63.6" cy="99.9" rx="2.4" ry="4.0" fill="#e09aa8" opacity="0.25"/>
<ellipse cx="59.1" cy="101.9" rx="1.8" ry="3.0" fill="#9a60d0" opacity="0.25"/>
<ellipse cx="74.2" cy="103.6" rx="2.4" ry="4.0" fill="#e09aa8" opacity="0.25"/>
<ellipse cx="69.7" cy="105.6" rx="1.8" ry="3.0" fill="#9a60d0" opacity="0.25"/>
<ellipse cx="84.8" cy="106.8" rx="2.4" ry="4.0" fill="#e09aa8" opacity="0.25"/>
<ellipse cx="80.3" cy="108.8" rx="1.8" ry="3.0" fill="#9a60d0" opacity="0.25"/>
<ellipse cx="95.4" cy="105.6" rx="2.4" ry="4.0" fill="#e09aa8" opacity="0.25"/>
<ellipse cx="90.9" cy="107.6" rx="1.8" ry="3.0" fill="#9a60d0" opacity="0.25"/>
<ellipse cx="106.0" cy="104.4" rx="2.4" ry="4.0" fill="#e09aa8" opacity="0.25"/>
<ellipse cx="101.5" cy="106.4" rx="1.8" ry="3.0" fill="#9a60d0" opacity="0.25"/>
<ellipse cx="116.6" cy="103.2" rx="2.4" ry="4.0" fill="#e09aa8" opacity="0.25"/>
<ellipse cx="112.1" cy="105.2" rx="1.8" ry="3.0" fill="#9a60d0" opacity="0.25"/>
<ellipse cx="127.2" cy="102.0" rx="2.4" ry="4.0" fill="#e09aa8" opacity="0.25"/>
<ellipse cx="122.7" cy="104.0" rx="1.8" ry="3.0" fill="#9a60d0" opacity="0.25"/>
<ellipse cx="137.8" cy="100.9" rx="2.4" ry="4.0" fill="#e09aa8" opacity="0.25"/>
<ellipse cx="133.3" cy="102.9" rx="1.8" ry="3.0" fill="#9a60d0" opacity="0.25"/>
<ellipse cx="148.4" cy="99.7" rx="2.4" ry="4.0" fill="#e09aa8" opacity="0.25"/>
<ellipse cx="143.9" cy="101.7" rx="1.8" ry="3.0" fill="#9a60d0" opacity="0.25"/>
<ellipse cx="159.0" cy="98.5" rx="2.4" ry="4.0" fill="#e09aa8" opacity="0.25"/>
<ellipse cx="154.5" cy="100.5" rx="1.8" ry="3.0" fill="#9a60d0" opacity="0.25"/>
<ellipse cx="169.6" cy="97.3" rx="2.4" ry="4.0" fill="#e09aa8" opacity="0.25"/>
<ellipse cx="165.1" cy="99.3" rx="1.8" ry="3.0" fill="#9a60d0" opacity="0.25"/>
<ellipse cx="180.2" cy="96.1" rx="2.4" ry="4.0" fill="#e09aa8" opacity="0.25"/>
<ellipse cx="175.7" cy="98.1" rx="1.8" ry="3.0" fill="#9a60d0" opacity="0.25"/>
<ellipse cx="190.8" cy="94.9" rx="2.4" ry="4.0" fill="#e09aa8" opacity="0.25"/>
<ellipse cx="186.3" cy="96.9" rx="1.8" ry="3.0" fill="#9a60d0" opacity="0.25"/>
<ellipse cx="201.4" cy="93.7" rx="2.4" ry="4.0" fill="#e09aa8" opacity="0.25"/>
<ellipse cx="196.9" cy="95.7" rx="1.8" ry="3.0" fill="#9a60d0" opacity="0.25"/>
<ellipse cx="212.0" cy="92.5" rx="2.4" ry="4.0" fill="#e09aa8" opacity="0.25"/>
<ellipse cx="207.5" cy="94.5" rx="1.8" ry="3.0" fill="#9a60d0" opacity="0.25"/>
<ellipse cx="222.6" cy="91.4" rx="2.4" ry="4.0" fill="#e09aa8" opacity="0.25"/>
<ellipse cx="218.1" cy="93.4" rx="1.8" ry="3.0" fill="#9a60d0" opacity="0.25"/>
<ellipse cx="233.2" cy="90.2" rx="2.4" ry="4.0" fill="#e09aa8" opacity="0.25"/>
<ellipse cx="228.7" cy="92.2" rx="1.8" ry="3.0" fill="#9a60d0" opacity="0.25"/>
<ellipse cx="243.8" cy="89.0" rx="2.4" ry="4.0" fill="#e09aa8" opacity="0.25"/>
<ellipse cx="239.3" cy="91.0" rx="1.8" ry="3.0" fill="#9a60d0" opacity="0.25"/>
<ellipse cx="254.4" cy="87.8" rx="2.4" ry="4.0" fill="#e09aa8" opacity="0.25"/>
<ellipse cx="249.9" cy="89.8" rx="1.8" ry="3.0" fill="#9a60d0" opacity="0.25"/>
<ellipse cx="265.0" cy="86.6" rx="2.4" ry="4.0" fill="#e09aa8" opacity="0.25"/>
<ellipse cx="260.5" cy="88.6" rx="1.8" ry="3.0" fill="#9a60d0" opacity="0.25"/>
<defs><pattern id="mesh" width="2.2" height="2.2" patternUnits="userSpaceOnUse" patternTransform="rotate(-35)"><rect width="2.2" height="2.2" fill="#eeeaf2"/><line x1="0" y1="1.1" x2="2.2" y2="1.1" stroke="#857d9a" stroke-width="0.6"/><line x1="1.1" y1="0" x2="1.1" y2="2.2" stroke="#bcb4cc" stroke-width="0.4"/></pattern></defs>
<polygon points="60.7,75.4 69.5,77.1 80.0,73.5 89.9,76.5 101.5,76.5 113.2,74.7 125.5,74.5 135.2,73.8 145.8,72.1 155.2,71.0 163.5,70.1 172.1,69.9 180.9,69.7 190.2,68.4 199.0,68.2 208.0,67.4 217.1,66.5 225.3,65.0 235.0,65.0 244.7,65.2 257.5,66.7 268.7,68.1 273.0,81.8 264.2,82.2 254.6,83.1 246.3,84.4 237.1,85.3 228.5,86.7 218.9,87.6 209.2,88.5 199.6,88.9 189.1,90.6 178.7,91.5 168.5,92.1 157.5,93.5 146.6,94.3 135.2,95.6 124.2,96.5 111.9,96.7 100.2,98.5 88.6,98.5 78.7,95.5 68.2,92.6 59.4,90.9" fill="url(#mesh)" opacity="0.8"/>
<circle cx="268.8" cy="74.3" r="2.55" fill="#3232c6"/>
<circle cx="273.6" cy="69.4" r="1.7" fill="#e6b43a"/>
<circle cx="273.6" cy="80.8" r="1.7" fill="#e6b43a"/>
<line x1="268.80" y1="74.30" x2="273.60" y2="69.40" stroke="#a0a0b0" stroke-width="0.6" />
<line x1="268.80" y1="74.30" x2="273.60" y2="80.80" stroke="#a0a0b0" stroke-width="0.6" />
<line x1="260.00" y1="74.70" x2="253.66" y2="70.51" stroke="#3838bc" stroke-width="2.7" stroke-linecap="round"/>
<circle cx="260.0" cy="74.7" r="2.55" fill="#3232c6"/>
<line x1="264.50" y1="71.40" x2="257.46" y2="66.74" stroke="#ddaa30" stroke-width="3.4" stroke-linecap="round"/>
<line x1="264.90" y1="70.80" x2="257.86" y2="66.14" stroke="#f2cc5c" stroke-width="1.0" stroke-linecap="round"/>
<line x1="264.20" y1="82.20" x2="258.21" y2="78.24" stroke="#d8a42e" stroke-width="3.1" stroke-linecap="round"/>
<line x1="250.40" y1="75.60" x2="241.21" y2="69.18" stroke="#3838bc" stroke-width="2.7" stroke-linecap="round"/>
<circle cx="250.4" cy="75.6" r="2.55" fill="#3232c6"/>
<line x1="254.90" y1="72.30" x2="244.69" y2="65.17" stroke="#ddaa30" stroke-width="3.4" stroke-linecap="round"/>
<line x1="255.30" y1="71.70" x2="245.09" y2="64.57" stroke="#f2cc5c" stroke-width="1.0" stroke-linecap="round"/>
<line x1="254.60" y1="83.10" x2="245.92" y2="77.04" stroke="#d8a42e" stroke-width="3.1" stroke-linecap="round"/>
<line x1="242.10" y1="76.90" x2="231.64" y2="69.19" stroke="#3838bc" stroke-width="2.7" stroke-linecap="round"/>
<circle cx="242.1" cy="76.9" r="2.55" fill="#3232c6"/>
<line x1="246.60" y1="73.60" x2="234.98" y2="65.04" stroke="#ddaa30" stroke-width="3.4" stroke-linecap="round"/>
<line x1="247.00" y1="73.00" x2="235.38" y2="64.44" stroke="#f2cc5c" stroke-width="1.0" stroke-linecap="round"/>
<line x1="246.30" y1="84.40" x2="236.42" y2="77.12" stroke="#d8a42e" stroke-width="3.1" stroke-linecap="round"/>
<line x1="232.90" y1="77.80" x2="221.98" y2="69.26" stroke="#3838bc" stroke-width="2.7" stroke-linecap="round"/>
<circle cx="232.9" cy="77.8" r="2.55" fill="#3232c6"/>
<line x1="237.40" y1="74.50" x2="225.26" y2="65.01" stroke="#ddaa30" stroke-width="3.4" stroke-linecap="round"/>
<line x1="237.80" y1="73.90" x2="225.66" y2="64.41" stroke="#f2cc5c" stroke-width="1.0" stroke-linecap="round"/>
<line x1="237.10" y1="85.30" x2="226.78" y2="77.24" stroke="#d8a42e" stroke-width="3.1" stroke-linecap="round"/>
<line x1="224.30" y1="79.20" x2="213.79" y2="70.70" stroke="#3838bc" stroke-width="2.7" stroke-linecap="round"/>
<circle cx="224.3" cy="79.2" r="2.55" fill="#3232c6"/>
<line x1="228.80" y1="75.90" x2="217.13" y2="66.46" stroke="#ddaa30" stroke-width="3.4" stroke-linecap="round"/>
<line x1="229.20" y1="75.30" x2="217.53" y2="65.86" stroke="#f2cc5c" stroke-width="1.0" stroke-linecap="round"/>
<line x1="228.50" y1="86.70" x2="218.58" y2="78.67" stroke="#d8a42e" stroke-width="3.1" stroke-linecap="round"/>
<line x1="214.70" y1="80.10" x2="204.66" y2="71.66" stroke="#3838bc" stroke-width="2.7" stroke-linecap="round"/>
<circle cx="214.7" cy="80.1" r="2.55" fill="#3232c6"/>
<line x1="219.20" y1="76.80" x2="208.04" y2="67.42" stroke="#ddaa30" stroke-width="3.4" stroke-linecap="round"/>
<line x1="219.60" y1="76.20" x2="208.44" y2="66.82" stroke="#f2cc5c" stroke-width="1.0" stroke-linecap="round"/>
<line x1="218.90" y1="87.60" x2="209.42" y2="79.63" stroke="#d8a42e" stroke-width="3.1" stroke-linecap="round"/>
<line x1="205.00" y1="81.00" x2="195.55" y2="72.49" stroke="#3838bc" stroke-width="2.7" stroke-linecap="round"/>
<circle cx="205.0" cy="81.0" r="2.55" fill="#3232c6"/>
<line x1="209.50" y1="77.70" x2="198.99" y2="68.24" stroke="#ddaa30" stroke-width="3.4" stroke-linecap="round"/>
<line x1="209.90" y1="77.10" x2="199.39" y2="67.64" stroke="#f2cc5c" stroke-width="1.0" stroke-linecap="round"/>
<line x1="209.20" y1="88.50" x2="200.27" y2="80.46" stroke="#d8a42e" stroke-width="3.1" stroke-linecap="round"/>
<line x1="195.40" y1="81.40" x2="186.66" y2="72.70" stroke="#3838bc" stroke-width="2.7" stroke-linecap="round"/>
<circle cx="195.4" cy="81.4" r="2.55" fill="#3232c6"/>
<line x1="199.90" y1="78.10" x2="190.19" y2="68.43" stroke="#ddaa30" stroke-width="3.4" stroke-linecap="round"/>
<line x1="200.30" y1="77.50" x2="190.59" y2="67.83" stroke="#f2cc5c" stroke-width="1.0" stroke-linecap="round"/>
<line x1="199.60" y1="88.90" x2="191.35" y2="80.68" stroke="#d8a42e" stroke-width="3.1" stroke-linecap="round"/>
<line x1="184.90" y1="83.10" x2="177.26" y2="73.97" stroke="#3838bc" stroke-width="2.7" stroke-linecap="round"/>
<circle cx="184.9" cy="83.1" r="2.55" fill="#3232c6"/>
<line x1="189.40" y1="79.80" x2="180.91" y2="69.66" stroke="#ddaa30" stroke-width="3.4" stroke-linecap="round"/>
<line x1="189.80" y1="79.20" x2="181.31" y2="69.06" stroke="#f2cc5c" stroke-width="1.0" stroke-linecap="round"/>
<line x1="189.10" y1="90.60" x2="181.89" y2="81.98" stroke="#d8a42e" stroke-width="3.1" stroke-linecap="round"/>
<line x1="174.50" y1="84.00" x2="168.30" y2="74.31" stroke="#3838bc" stroke-width="2.7" stroke-linecap="round"/>
<circle cx="174.5" cy="84.0" r="2.55" fill="#3232c6"/>
<line x1="179.00" y1="80.70" x2="172.11" y2="69.94" stroke="#ddaa30" stroke-width="3.4" stroke-linecap="round"/>
<line x1="179.40" y1="80.10" x2="172.51" y2="69.34" stroke="#f2cc5c" stroke-width="1.0" stroke-linecap="round"/>
<line x1="178.70" y1="91.50" x2="172.84" y2="82.35" stroke="#d8a42e" stroke-width="3.1" stroke-linecap="round"/>
<line x1="164.30" y1="84.60" x2="159.56" y2="74.53" stroke="#3838bc" stroke-width="2.7" stroke-linecap="round"/>
<circle cx="164.3" cy="84.6" r="2.55" fill="#3232c6"/>
<line x1="168.80" y1="81.30" x2="163.53" y2="70.11" stroke="#ddaa30" stroke-width="3.4" stroke-linecap="round"/>
<line x1="169.20" y1="80.70" x2="163.93" y2="69.51" stroke="#f2cc5c" stroke-width="1.0" stroke-linecap="round"/>
<line x1="168.50" y1="92.10" x2="164.02" y2="82.59" stroke="#d8a42e" stroke-width="3.1" stroke-linecap="round"/>
<line x1="153.30" y1="86.00" x2="151.00" y2="75.51" stroke="#3838bc" stroke-width="2.7" stroke-linecap="round"/>
<circle cx="153.3" cy="86.0" r="2.55" fill="#3232c6"/>
<line x1="157.80" y1="82.70" x2="155.25" y2="71.04" stroke="#ddaa30" stroke-width="3.4" stroke-linecap="round"/>
<line x1="158.20" y1="82.10" x2="155.65" y2="70.44" stroke="#f2cc5c" stroke-width="1.0" stroke-linecap="round"/>
<line x1="157.50" y1="93.50" x2="155.33" y2="83.59" stroke="#d8a42e" stroke-width="3.1" stroke-linecap="round"/>
<line x1="55.20" y1="83.40" x2="56.61" y2="78.86" stroke="#3838bc" stroke-width="2.7" stroke-linecap="round"/>
<circle cx="55.2" cy="83.4" r="2.55" fill="#3232c6"/>
<line x1="57.60" y1="78.70" x2="59.00" y2="76.50" stroke="#ddaa30" stroke-width="3.4" stroke-linecap="round"/>
<line x1="58.00" y1="78.10" x2="59.40" y2="75.90" stroke="#f2cc5c" stroke-width="1.0" stroke-linecap="round"/>
<line x1="59.40" y1="90.90" x2="62.06" y2="82.33" stroke="#d8a42e" stroke-width="3.1" stroke-linecap="round"/>
<line x1="142.40" y1="86.80" x2="141.45" y2="76.50" stroke="#3838bc" stroke-width="2.7" stroke-linecap="round"/>
<circle cx="142.4" cy="86.8" r="2.55" fill="#3232c6"/>
<line x1="146.90" y1="83.50" x2="145.85" y2="72.05" stroke="#ddaa30" stroke-width="3.4" stroke-linecap="round"/>
<line x1="147.30" y1="82.90" x2="146.25" y2="71.45" stroke="#f2cc5c" stroke-width="1.0" stroke-linecap="round"/>
<line x1="146.60" y1="94.30" x2="145.71" y2="84.57" stroke="#d8a42e" stroke-width="3.1" stroke-linecap="round"/>
<line x1="64.00" y1="85.10" x2="65.31" y2="80.50" stroke="#3838bc" stroke-width="2.7" stroke-linecap="round"/>
<circle cx="64.0" cy="85.1" r="2.55" fill="#3232c6"/>
<line x1="66.40" y1="80.40" x2="69.60" y2="75.20" stroke="#ddaa30" stroke-width="3.4" stroke-linecap="round"/>
<line x1="66.80" y1="79.80" x2="70.00" y2="74.60" stroke="#f2cc5c" stroke-width="1.0" stroke-linecap="round"/>
<line x1="68.20" y1="92.60" x2="70.68" y2="83.90" stroke="#d8a42e" stroke-width="3.1" stroke-linecap="round"/>
<line x1="131.00" y1="88.10" x2="130.69" y2="78.17" stroke="#3838bc" stroke-width="2.7" stroke-linecap="round"/>
<circle cx="131.0" cy="88.1" r="2.55" fill="#3232c6"/>
<line x1="135.50" y1="84.80" x2="135.16" y2="73.77" stroke="#ddaa30" stroke-width="3.4" stroke-linecap="round"/>
<line x1="135.90" y1="84.20" x2="135.56" y2="73.17" stroke="#f2cc5c" stroke-width="1.0" stroke-linecap="round"/>
<line x1="135.20" y1="95.60" x2="134.91" y2="86.22" stroke="#d8a42e" stroke-width="3.1" stroke-linecap="round"/>
<line x1="74.50" y1="88.00" x2="75.70" y2="83.32" stroke="#3838bc" stroke-width="2.7" stroke-linecap="round"/>
<circle cx="74.5" cy="88.0" r="2.55" fill="#3232c6"/>
<line x1="76.90" y1="83.30" x2="80.80" y2="73.90" stroke="#ddaa30" stroke-width="3.4" stroke-linecap="round"/>
<line x1="77.30" y1="82.70" x2="81.20" y2="73.30" stroke="#f2cc5c" stroke-width="1.0" stroke-linecap="round"/>
<line x1="78.70" y1="95.50" x2="80.96" y2="86.65" stroke="#d8a42e" stroke-width="3.1" stroke-linecap="round"/>
<line x1="120.00" y1="89.00" x2="120.33" y2="79.11" stroke="#3838bc" stroke-width="2.7" stroke-linecap="round"/>
<circle cx="120.0" cy="89.0" r="2.55" fill="#3232c6"/>
<line x1="122.40" y1="84.30" x2="124.50" y2="71.40" stroke="#ddaa30" stroke-width="3.4" stroke-linecap="round"/>
<line x1="122.80" y1="83.70" x2="124.90" y2="70.80" stroke="#f2cc5c" stroke-width="1.0" stroke-linecap="round"/>
<line x1="124.20" y1="96.50" x2="124.51" y2="87.16" stroke="#d8a42e" stroke-width="3.1" stroke-linecap="round"/>
<line x1="84.40" y1="91.00" x2="85.48" y2="86.24" stroke="#3838bc" stroke-width="2.7" stroke-linecap="round"/>
<circle cx="84.4" cy="91.0" r="2.55" fill="#3232c6"/>
<line x1="86.80" y1="86.30" x2="91.80" y2="73.30" stroke="#ddaa30" stroke-width="3.4" stroke-linecap="round"/>
<line x1="87.20" y1="85.70" x2="92.20" y2="72.70" stroke="#f2cc5c" stroke-width="1.0" stroke-linecap="round"/>
<line x1="88.60" y1="98.50" x2="90.65" y2="89.51" stroke="#d8a42e" stroke-width="3.1" stroke-linecap="round"/>
<line x1="107.70" y1="89.20" x2="108.25" y2="84.28" stroke="#3838bc" stroke-width="2.7" stroke-linecap="round"/>
<circle cx="107.7" cy="89.2" r="2.55" fill="#3232c6"/>
<line x1="110.10" y1="84.50" x2="113.60" y2="72.00" stroke="#ddaa30" stroke-width="3.4" stroke-linecap="round"/>
<line x1="110.50" y1="83.90" x2="114.00" y2="71.40" stroke="#f2cc5c" stroke-width="1.0" stroke-linecap="round"/>
<line x1="111.90" y1="96.70" x2="112.94" y2="87.41" stroke="#d8a42e" stroke-width="3.1" stroke-linecap="round"/>
<line x1="96.00" y1="91.00" x2="96.86" y2="86.14" stroke="#3838bc" stroke-width="2.7" stroke-linecap="round"/>
<circle cx="96.0" cy="91.0" r="2.55" fill="#3232c6"/>
<line x1="98.40" y1="86.30" x2="103.00" y2="72.60" stroke="#ddaa30" stroke-width="3.4" stroke-linecap="round"/>
<line x1="98.80" y1="85.70" x2="103.40" y2="72.00" stroke="#f2cc5c" stroke-width="1.0" stroke-linecap="round"/>
<line x1="100.20" y1="98.50" x2="101.83" y2="89.33" stroke="#d8a42e" stroke-width="3.1" stroke-linecap="round"/>
<polygon points="160.6,58.2 205.0,56.5 219.6,64.5 220.6,66.2 201.4,66.2 174.0,69.5 165.0,66.0" fill="#e4bc12" />
<polygon points="173.8,68.0 201.4,66.2 200.6,74.8 173.8,72.0" fill="#f2cc08" />
<polygon points="201.4,66.2 220.6,66.2 220.6,73.8 200.6,74.8" fill="#fde200" />
<polygon points="103.5,61.0 150.0,57.5 173.9,69.6 146.4,70.2 103.7,68.3" fill="#e6be14" />
<polygon points="146.4,70.2 173.9,69.6 173.9,78.6 151.6,78.8" fill="#fde200" />
<polygon points="103.7,68.3 146.4,70.2 151.6,78.8 140.0,75.5 103.7,69.8" fill="#d8aa0c" />
<polygon points="82.0,25.0 110.0,22.0 175.0,22.0 245.0,27.0 245.0,54.0 200.0,57.0 150.0,59.5 100.0,58.5 82.0,57.0" fill="#9a68cc" opacity="0.3"/>
<circle cx="123.7" cy="45.4" r="2.6" fill="#a424c6"/>
<circle cx="139.2" cy="32.5" r="2.6" fill="#a424c6"/>
<circle cx="178.5" cy="47.4" r="2.3" fill="#4a4ad2"/>
<circle cx="168.2" cy="37.6" r="2.3" fill="#4a4ad2"/>
<circle cx="203.4" cy="45.8" r="2.3" fill="#4a4ad2"/>
<circle cx="159.3" cy="52.9" r="2.6" fill="#a424c6"/>
<circle cx="168.9" cy="32.4" r="2.6" fill="#a424c6"/>
<circle cx="168.4" cy="47.4" r="2.6" fill="#a424c6"/>
<circle cx="79.8" cy="29.7" r="2.3" fill="#4a4ad2"/>
<circle cx="99.8" cy="43.2" r="2.3" fill="#4a4ad2"/>
<circle cx="109.7" cy="52.8" r="2.3" fill="#4a4ad2"/>
<circle cx="243.9" cy="37.6" r="2.3" fill="#4a4ad2"/>
<circle cx="128.8" cy="41.8" r="2.6" fill="#a424c6"/>
<circle cx="159.7" cy="27.2" r="2.3" fill="#4a4ad2"/>
<circle cx="228.6" cy="38.8" r="2.3" fill="#4a4ad2"/>
<circle cx="104.4" cy="36.2" r="2.6" fill="#a424c6"/>
<circle cx="247.9" cy="46.1" r="2.6" fill="#a424c6"/>
<circle cx="198.7" cy="33.6" r="2.3" fill="#4a4ad2"/>
<circle cx="232.7" cy="37.1" r="2.6" fill="#a424c6"/>
<circle cx="153.9" cy="30.1" r="2.6" fill="#a424c6"/>
<circle cx="69.3" cy="41.4" r="2.6" fill="#a424c6"/>
<circle cx="178.7" cy="52.0" r="2.6" fill="#a424c6"/>
<circle cx="224.0" cy="26.1" r="2.3" fill="#4a4ad2"/>
<circle cx="130.1" cy="37.6" r="2.3" fill="#4a4ad2"/>
<circle cx="219.0" cy="48.7" r="2.6" fill="#a424c6"/>
<circle cx="158.9" cy="47.6" r="2.6" fill="#a424c6"/>
<circle cx="99.5" cy="32.9" r="2.3" fill="#4a4ad2"/>
<circle cx="202.9" cy="41.0" r="2.6" fill="#a424c6"/>
<circle cx="134.8" cy="25.5" r="2.6" fill="#a424c6"/>
<circle cx="123.9" cy="29.9" r="2.6" fill="#a424c6"/>
<circle cx="183.9" cy="25.2" r="2.3" fill="#4a4ad2"/>
<circle cx="218.9" cy="28.4" r="2.6" fill="#a424c6"/>
<circle cx="188.4" cy="38.0" r="2.3" fill="#4a4ad2"/>
<circle cx="124.1" cy="35.4" r="2.6" fill="#a424c6"/>
<circle cx="90.1" cy="33.5" r="2.6" fill="#a424c6"/>
<circle cx="94.4" cy="26.0" r="2.3" fill="#4a4ad2"/>
<circle cx="154.3" cy="50.0" r="2.3" fill="#4a4ad2"/>
<circle cx="213.2" cy="40.6" r="2.3" fill="#4a4ad2"/>
<circle cx="158.6" cy="37.7" r="2.6" fill="#a424c6"/>
<circle cx="208.8" cy="38.9" r="2.6" fill="#a424c6"/>
<circle cx="233.6" cy="32.2" r="2.6" fill="#a424c6"/>
<circle cx="128.9" cy="27.0" r="2.3" fill="#4a4ad2"/>
<circle cx="222.7" cy="41.4" r="2.3" fill="#4a4ad2"/>
<circle cx="119.6" cy="47.2" r="2.6" fill="#a424c6"/>
<circle cx="209.0" cy="28.5" r="2.6" fill="#a424c6"/>
<circle cx="218.0" cy="43.7" r="2.6" fill="#a424c6"/>
<circle cx="94.6" cy="36.8" r="2.6" fill="#a424c6"/>
<circle cx="237.5" cy="29.5" r="2.3" fill="#4a4ad2"/>
<circle cx="207.9" cy="48.8" r="2.6" fill="#a424c6"/>
<circle cx="149.0" cy="32.9" r="2.6" fill="#a424c6"/>
<circle cx="89.6" cy="38.6" r="2.6" fill="#a424c6"/>
<circle cx="84.5" cy="47.6" r="2.6" fill="#a424c6"/>
<circle cx="208.9" cy="43.8" r="2.6" fill="#a424c6"/>
<circle cx="89.6" cy="49.4" r="2.6" fill="#a424c6"/>
<circle cx="243.7" cy="47.7" r="2.3" fill="#4a4ad2"/>
<circle cx="179.1" cy="32.6" r="2.6" fill="#a424c6"/>
<circle cx="174.5" cy="40.2" r="2.3" fill="#4a4ad2"/>
<circle cx="124.5" cy="49.8" r="2.3" fill="#4a4ad2"/>
<circle cx="198.3" cy="28.1" r="2.6" fill="#a424c6"/>
<circle cx="144.8" cy="39.6" r="2.3" fill="#4a4ad2"/>
<circle cx="203.8" cy="35.3" r="2.6" fill="#a424c6"/>
<circle cx="248.4" cy="40.4" r="2.3" fill="#4a4ad2"/>
<circle cx="139.9" cy="27.8" r="2.6" fill="#a424c6"/>
<circle cx="203.2" cy="26.4" r="2.6" fill="#a424c6"/>
<circle cx="109.3" cy="43.1" r="2.3" fill="#4a4ad2"/>
<circle cx="113.8" cy="25.4" r="2.3" fill="#4a4ad2"/>
<circle cx="89.2" cy="29.0" r="2.3" fill="#4a4ad2"/>
<circle cx="154.1" cy="39.9" r="2.6" fill="#a424c6"/>
<circle cx="223.5" cy="31.4" r="2.6" fill="#a424c6"/>
<circle cx="95.4" cy="50.9" r="2.3" fill="#4a4ad2"/>
<circle cx="233.9" cy="27.4" r="2.3" fill="#4a4ad2"/>
<circle cx="238.4" cy="40.2" r="2.6" fill="#a424c6"/>
<circle cx="85.0" cy="42.4" r="2.6" fill="#a424c6"/>
<circle cx="149.1" cy="27.6" r="2.3" fill="#4a4ad2"/>
<circle cx="135.1" cy="55.0" r="2.3" fill="#4a4ad2"/>
<circle cx="119.9" cy="42.9" r="2.6" fill="#a424c6"/>
<circle cx="183.3" cy="50.2" r="2.6" fill="#a424c6"/>
<circle cx="114.3" cy="35.6" r="2.3" fill="#4a4ad2"/>
<circle cx="228.6" cy="49.3" r="2.3" fill="#4a4ad2"/>
<circle cx="138.7" cy="47.4" r="2.6" fill="#a424c6"/>
<circle cx="193.6" cy="45.2" r="2.3" fill="#4a4ad2"/>
<circle cx="138.5" cy="37.8" r="2.6" fill="#a424c6"/>
<circle cx="237.7" cy="44.4" r="2.6" fill="#a424c6"/>
<circle cx="238.4" cy="49.4" r="2.3" fill="#4a4ad2"/>
<circle cx="75.6" cy="28.3" r="2.3" fill="#4a4ad2"/>
<circle cx="173.7" cy="45.3" r="2.3" fill="#4a4ad2"/>
<circle cx="99.0" cy="48.1" r="2.3" fill="#4a4ad2"/>
<circle cx="138.7" cy="42.2" r="2.3" fill="#4a4ad2"/>
<circle cx="129.3" cy="32.6" r="2.3" fill="#4a4ad2"/>
<circle cx="179.6" cy="37.7" r="2.6" fill="#a424c6"/>
<circle cx="154.7" cy="54.7" r="2.3" fill="#4a4ad2"/>
<circle cx="74.9" cy="37.6" r="2.6" fill="#a424c6"/>
<circle cx="173.7" cy="25.1" r="2.3" fill="#4a4ad2"/>
<circle cx="103.8" cy="25.5" r="2.6" fill="#a424c6"/>
<circle cx="173.9" cy="49.4" r="2.6" fill="#a424c6"/>
<circle cx="159.6" cy="42.3" r="2.6" fill="#a424c6"/>
<circle cx="99.2" cy="38.7" r="2.3" fill="#4a4ad2"/>
<circle cx="105.3" cy="51.0" r="2.6" fill="#a424c6"/>
<circle cx="208.4" cy="33.0" r="2.6" fill="#a424c6"/>
<circle cx="153.5" cy="35.0" r="2.3" fill="#4a4ad2"/>
<circle cx="90.2" cy="43.7" r="2.3" fill="#4a4ad2"/>
<circle cx="228.7" cy="44.4" r="2.3" fill="#4a4ad2"/>
<circle cx="143.5" cy="24.7" r="2.3" fill="#4a4ad2"/>
<circle cx="198.0" cy="43.5" r="2.6" fill="#a424c6"/>
<circle cx="90.5" cy="53.6" r="2.6" fill="#a424c6"/>
<circle cx="164.4" cy="30.0" r="2.6" fill="#a424c6"/>
<circle cx="213.6" cy="26.0" r="2.6" fill="#a424c6"/>
<circle cx="144.3" cy="34.8" r="2.3" fill="#4a4ad2"/>
<circle cx="144.6" cy="30.2" r="2.6" fill="#a424c6"/>
<circle cx="109.4" cy="48.3" r="2.3" fill="#4a4ad2"/>
<circle cx="184.0" cy="35.6" r="2.3" fill="#4a4ad2"/>
<circle cx="189.5" cy="53.3" r="2.6" fill="#a424c6"/>
<circle cx="164.0" cy="40.1" r="2.3" fill="#4a4ad2"/>
<circle cx="227.9" cy="28.5" r="2.3" fill="#4a4ad2"/>
<circle cx="85.5" cy="27.5" r="2.6" fill="#a424c6"/>
<circle cx="124.0" cy="24.6" r="2.3" fill="#4a4ad2"/>
<circle cx="169.4" cy="52.6" r="2.3" fill="#4a4ad2"/>
<circle cx="95.3" cy="40.9" r="2.3" fill="#4a4ad2"/>
<circle cx="119.2" cy="37.6" r="2.3" fill="#4a4ad2"/>
<circle cx="163.5" cy="45.4" r="2.6" fill="#a424c6"/>
<circle cx="120.1" cy="32.6" r="2.6" fill="#a424c6"/>
<circle cx="74.1" cy="43.1" r="2.6" fill="#a424c6"/>
<circle cx="139.6" cy="52.9" r="2.3" fill="#4a4ad2"/>
<circle cx="189.5" cy="27.7" r="2.6" fill="#a424c6"/>
<circle cx="193.1" cy="50.4" r="2.6" fill="#a424c6"/>
<circle cx="204.0" cy="51.2" r="2.6" fill="#a424c6"/>
<circle cx="238.7" cy="34.3" r="2.3" fill="#4a4ad2"/>
<circle cx="174.1" cy="54.7" r="2.3" fill="#4a4ad2"/>
<circle cx="179.6" cy="41.9" r="2.3" fill="#4a4ad2"/>
<circle cx="95.2" cy="46.0" r="2.3" fill="#4a4ad2"/>
<circle cx="193.6" cy="25.5" r="2.3" fill="#4a4ad2"/>
<circle cx="213.9" cy="30.5" r="2.6" fill="#a424c6"/>
<circle cx="133.8" cy="45.3" r="2.3" fill="#4a4ad2"/>
<circle cx="153.6" cy="24.7" r="2.6" fill="#a424c6"/>
<circle cx="94.8" cy="31.0" r="2.6" fill="#a424c6"/>
<circle cx="104.1" cy="30.6" r="2.6" fill="#a424c6"/>
<circle cx="243.2" cy="42.5" r="2.3" fill="#4a4ad2"/>
<circle cx="120.0" cy="52.8" r="2.6" fill="#a424c6"/>
<circle cx="70.2" cy="36.4" r="2.6" fill="#a424c6"/>
<circle cx="114.7" cy="45.3" r="2.6" fill="#a424c6"/>
<circle cx="202.9" cy="30.3" r="2.3" fill="#4a4ad2"/>
<circle cx="109.9" cy="38.2" r="2.3" fill="#4a4ad2"/>
<circle cx="84.4" cy="51.6" r="2.6" fill="#a424c6"/>
<circle cx="194.4" cy="35.8" r="2.6" fill="#a424c6"/>
<circle cx="188.3" cy="42.2" r="2.6" fill="#a424c6"/>
<circle cx="134.8" cy="40.5" r="2.3" fill="#4a4ad2"/>
<circle cx="66.0" cy="30.6" r="1.35" fill="#ee2028"/>
<circle cx="68.8" cy="28.9" r="1.35" fill="#ee2028"/>
<circle cx="71.5" cy="27.3" r="1.35" fill="#ee2028"/>
<circle cx="74.3" cy="25.7" r="1.35" fill="#ee2028"/>
<circle cx="75.9" cy="29.5" r="1.35" fill="#ee2028"/>
<circle cx="78.6" cy="27.8" r="1.35" fill="#ee2028"/>
<circle cx="81.3" cy="26.0" r="1.35" fill="#ee2028"/>
<circle cx="84.0" cy="24.3" r="1.35" fill="#ee2028"/>
<circle cx="85.8" cy="28.4" r="1.35" fill="#ee2028"/>
<circle cx="88.4" cy="26.6" r="1.35" fill="#ee2028"/>
<circle cx="91.0" cy="24.7" r="1.35" fill="#ee2028"/>
<circle cx="93.6" cy="22.8" r="1.35" fill="#ee2028"/>
<circle cx="95.7" cy="27.7" r="1.35" fill="#ee2028"/>
<circle cx="98.2" cy="25.7" r="1.35" fill="#ee2028"/>
<circle cx="100.6" cy="23.7" r="1.35" fill="#ee2028"/>
<circle cx="103.1" cy="21.6" r="1.35" fill="#ee2028"/>
<circle cx="105.6" cy="27.2" r="1.35" fill="#ee2028"/>
<circle cx="107.9" cy="25.0" r="1.35" fill="#ee2028"/>
<circle cx="110.2" cy="22.8" r="1.35" fill="#ee2028"/>
<circle cx="112.5" cy="20.6" r="1.35" fill="#ee2028"/>
<circle cx="115.5" cy="26.7" r="1.35" fill="#ee2028"/>
<circle cx="117.6" cy="24.3" r="1.35" fill="#ee2028"/>
<circle cx="119.7" cy="21.9" r="1.35" fill="#ee2028"/>
<circle cx="121.8" cy="19.4" r="1.35" fill="#ee2028"/>
<circle cx="125.4" cy="26.5" r="1.35" fill="#ee2028"/>
<circle cx="127.2" cy="23.8" r="1.35" fill="#ee2028"/>
<circle cx="129.0" cy="21.2" r="1.35" fill="#ee2028"/>
<circle cx="130.8" cy="18.5" r="1.35" fill="#ee2028"/>
<circle cx="135.3" cy="26.5" r="1.35" fill="#ee2028"/>
<circle cx="136.7" cy="23.6" r="1.35" fill="#ee2028"/>
<circle cx="138.1" cy="20.7" r="1.35" fill="#ee2028"/>
<circle cx="139.5" cy="17.8" r="1.35" fill="#ee2028"/>
<circle cx="145.2" cy="26.5" r="1.35" fill="#ee2028"/>
<circle cx="146.1" cy="23.4" r="1.35" fill="#ee2028"/>
<circle cx="147.0" cy="20.3" r="1.35" fill="#ee2028"/>
<circle cx="155.1" cy="26.5" r="1.35" fill="#ee2028"/>
<circle cx="155.4" cy="23.3" r="1.35" fill="#ee2028"/>
<circle cx="155.7" cy="20.1" r="1.35" fill="#ee2028"/>
<circle cx="165.0" cy="26.5" r="1.35" fill="#ee2028"/>
<circle cx="164.7" cy="23.3" r="1.35" fill="#ee2028"/>
<circle cx="164.4" cy="20.1" r="1.35" fill="#ee2028"/>
<circle cx="174.9" cy="26.5" r="1.35" fill="#ee2028"/>
<circle cx="174.0" cy="23.4" r="1.35" fill="#ee2028"/>
<circle cx="173.1" cy="20.4" r="1.35" fill="#ee2028"/>
<circle cx="184.8" cy="26.8" r="1.35" fill="#ee2028"/>
<circle cx="183.4" cy="23.9" r="1.35" fill="#ee2028"/>
<circle cx="182.0" cy="21.0" r="1.35" fill="#ee2028"/>
<circle cx="180.7" cy="18.1" r="1.35" fill="#ee2028"/>
<circle cx="194.7" cy="27.0" r="1.35" fill="#ee2028"/>
<circle cx="192.9" cy="24.4" r="1.35" fill="#ee2028"/>
<circle cx="191.1" cy="21.7" r="1.35" fill="#ee2028"/>
<circle cx="189.4" cy="19.1" r="1.35" fill="#ee2028"/>
<circle cx="204.6" cy="27.3" r="1.35" fill="#ee2028"/>
<circle cx="202.5" cy="24.9" r="1.35" fill="#ee2028"/>
<circle cx="200.4" cy="22.4" r="1.35" fill="#ee2028"/>
<circle cx="198.4" cy="20.0" r="1.35" fill="#ee2028"/>
<circle cx="214.5" cy="27.6" r="1.35" fill="#ee2028"/>
<circle cx="212.2" cy="25.4" r="1.35" fill="#ee2028"/>
<circle cx="209.9" cy="23.1" r="1.35" fill="#ee2028"/>
<circle cx="207.6" cy="20.9" r="1.35" fill="#ee2028"/>
<circle cx="224.4" cy="27.8" r="1.35" fill="#ee2028"/>
<circle cx="221.9" cy="25.8" r="1.35" fill="#ee2028"/>
<circle cx="219.5" cy="23.8" r="1.35" fill="#ee2028"/>
<circle cx="217.0" cy="21.8" r="1.35" fill="#ee2028"/>
<circle cx="234.3" cy="28.4" r="1.35" fill="#ee2028"/>
<circle cx="231.7" cy="26.6" r="1.35" fill="#ee2028"/>
<circle cx="229.1" cy="24.7" r="1.35" fill="#ee2028"/>
<circle cx="226.5" cy="22.8" r="1.35" fill="#ee2028"/>
<circle cx="244.2" cy="29.4" r="1.35" fill="#ee2028"/>
<circle cx="241.5" cy="27.7" r="1.35" fill="#ee2028"/>
<circle cx="238.8" cy="25.9" r="1.35" fill="#ee2028"/>
<circle cx="236.1" cy="24.2" r="1.35" fill="#ee2028"/>
<circle cx="254.1" cy="31.9" r="1.35" fill="#ee2028"/>
<circle cx="251.4" cy="30.2" r="1.35" fill="#ee2028"/>
<circle cx="248.6" cy="28.6" r="1.35" fill="#ee2028"/>
<circle cx="245.9" cy="26.9" r="1.35" fill="#ee2028"/>
<line x1="64.50" y1="55.78" x2="74.63" y2="22.28" stroke="#d8141c" stroke-width="0.8" />
<circle cx="64.5" cy="55.8" r="1.55" fill="#f01e26"/>
<circle cx="65.5" cy="52.4" r="1.55" fill="#f01e26"/>
<circle cx="66.5" cy="49.1" r="1.55" fill="#f01e26"/>
<circle cx="67.5" cy="45.7" r="1.55" fill="#f01e26"/>
<circle cx="68.6" cy="42.4" r="1.55" fill="#f01e26"/>
<circle cx="69.6" cy="39.0" r="1.55" fill="#f01e26"/>
<circle cx="70.6" cy="35.7" r="1.55" fill="#f01e26"/>
<circle cx="71.6" cy="32.3" r="1.55" fill="#f01e26"/>
<circle cx="72.6" cy="29.0" r="1.55" fill="#f01e26"/>
<circle cx="73.6" cy="25.6" r="1.55" fill="#f01e26"/>
<circle cx="74.6" cy="22.3" r="1.55" fill="#f01e26"/>
<circle cx="77.5" cy="20.7" r="1.4" fill="#f01e26"/>
<circle cx="80.4" cy="19.1" r="1.4" fill="#f01e26"/>
<line x1="74.40" y1="57.66" x2="83.51" y2="23.86" stroke="#d8141c" stroke-width="0.8" />
<circle cx="74.4" cy="57.7" r="1.55" fill="#f01e26"/>
<circle cx="75.3" cy="54.3" r="1.55" fill="#f01e26"/>
<circle cx="76.2" cy="50.9" r="1.55" fill="#f01e26"/>
<circle cx="77.1" cy="47.5" r="1.55" fill="#f01e26"/>
<circle cx="78.0" cy="44.1" r="1.55" fill="#f01e26"/>
<circle cx="79.0" cy="40.8" r="1.55" fill="#f01e26"/>
<circle cx="79.9" cy="37.4" r="1.55" fill="#f01e26"/>
<circle cx="80.8" cy="34.0" r="1.55" fill="#f01e26"/>
<circle cx="81.7" cy="30.6" r="1.55" fill="#f01e26"/>
<circle cx="82.6" cy="27.2" r="1.55" fill="#f01e26"/>
<circle cx="83.5" cy="23.9" r="1.55" fill="#f01e26"/>
<circle cx="86.3" cy="22.1" r="1.4" fill="#f01e26"/>
<circle cx="89.1" cy="20.3" r="1.4" fill="#f01e26"/>
<circle cx="91.8" cy="18.5" r="1.4" fill="#f01e26"/>
<line x1="84.30" y1="59.53" x2="93.18" y2="22.07" stroke="#d8141c" stroke-width="0.8" />
<circle cx="84.3" cy="59.5" r="1.55" fill="#f01e26"/>
<circle cx="85.1" cy="56.1" r="1.55" fill="#f01e26"/>
<circle cx="85.9" cy="52.7" r="1.55" fill="#f01e26"/>
<circle cx="86.7" cy="49.3" r="1.55" fill="#f01e26"/>
<circle cx="87.5" cy="45.9" r="1.55" fill="#f01e26"/>
<circle cx="88.3" cy="42.5" r="1.55" fill="#f01e26"/>
<circle cx="89.1" cy="39.1" r="1.55" fill="#f01e26"/>
<circle cx="89.9" cy="35.7" r="1.55" fill="#f01e26"/>
<circle cx="90.8" cy="32.3" r="1.55" fill="#f01e26"/>
<circle cx="91.6" cy="28.9" r="1.55" fill="#f01e26"/>
<circle cx="92.4" cy="25.5" r="1.55" fill="#f01e26"/>
<circle cx="93.2" cy="22.1" r="1.55" fill="#f01e26"/>
<circle cx="95.9" cy="20.2" r="1.4" fill="#f01e26"/>
<circle cx="98.6" cy="18.3" r="1.4" fill="#f01e26"/>
<line x1="94.20" y1="61.40" x2="102.62" y2="20.26" stroke="#d8141c" stroke-width="0.8" />
<circle cx="94.2" cy="61.4" r="1.55" fill="#f01e26"/>
<circle cx="94.9" cy="58.0" r="1.55" fill="#f01e26"/>
<circle cx="95.6" cy="54.5" r="1.55" fill="#f01e26"/>
<circle cx="96.3" cy="51.1" r="1.55" fill="#f01e26"/>
<circle cx="97.0" cy="47.7" r="1.55" fill="#f01e26"/>
<circle cx="97.7" cy="44.3" r="1.55" fill="#f01e26"/>
<circle cx="98.4" cy="40.8" r="1.55" fill="#f01e26"/>
<circle cx="99.1" cy="37.4" r="1.55" fill="#f01e26"/>
<circle cx="99.8" cy="34.0" r="1.55" fill="#f01e26"/>
<circle cx="100.5" cy="30.5" r="1.55" fill="#f01e26"/>
<circle cx="101.2" cy="27.1" r="1.55" fill="#f01e26"/>
<circle cx="101.9" cy="23.7" r="1.55" fill="#f01e26"/>
<circle cx="102.6" cy="20.3" r="1.55" fill="#f01e26"/>
<circle cx="105.2" cy="18.2" r="1.4" fill="#f01e26"/>
<line x1="104.10" y1="62.58" x2="111.27" y2="21.20" stroke="#d8141c" stroke-width="0.8" />
<circle cx="104.1" cy="62.6" r="1.55" fill="#f01e26"/>
<circle cx="104.7" cy="59.1" r="1.55" fill="#f01e26"/>
<circle cx="105.3" cy="55.7" r="1.55" fill="#f01e26"/>
<circle cx="105.9" cy="52.2" r="1.55" fill="#f01e26"/>
<circle cx="106.5" cy="48.8" r="1.55" fill="#f01e26"/>
<circle cx="107.1" cy="45.3" r="1.55" fill="#f01e26"/>
<circle cx="107.7" cy="41.9" r="1.55" fill="#f01e26"/>
<circle cx="108.3" cy="38.4" r="1.55" fill="#f01e26"/>
<circle cx="108.9" cy="35.0" r="1.55" fill="#f01e26"/>
<circle cx="109.5" cy="31.5" r="1.55" fill="#f01e26"/>
<circle cx="110.1" cy="28.1" r="1.55" fill="#f01e26"/>
<circle cx="110.7" cy="24.6" r="1.55" fill="#f01e26"/>
<circle cx="111.3" cy="21.2" r="1.55" fill="#f01e26"/>
<circle cx="113.7" cy="18.9" r="1.4" fill="#f01e26"/>
<circle cx="116.1" cy="16.7" r="1.4" fill="#f01e26"/>
<line x1="114.00" y1="62.78" x2="119.93" y2="21.20" stroke="#d8141c" stroke-width="0.8" />
<circle cx="114.0" cy="62.8" r="1.55" fill="#f01e26"/>
<circle cx="114.5" cy="59.3" r="1.55" fill="#f01e26"/>
<circle cx="115.0" cy="55.9" r="1.55" fill="#f01e26"/>
<circle cx="115.5" cy="52.4" r="1.55" fill="#f01e26"/>
<circle cx="116.0" cy="48.9" r="1.55" fill="#f01e26"/>
<circle cx="116.5" cy="45.5" r="1.55" fill="#f01e26"/>
<circle cx="117.0" cy="42.0" r="1.55" fill="#f01e26"/>
<circle cx="117.5" cy="38.5" r="1.55" fill="#f01e26"/>
<circle cx="118.0" cy="35.1" r="1.55" fill="#f01e26"/>
<circle cx="118.4" cy="31.6" r="1.55" fill="#f01e26"/>
<circle cx="118.9" cy="28.1" r="1.55" fill="#f01e26"/>
<circle cx="119.4" cy="24.7" r="1.55" fill="#f01e26"/>
<circle cx="119.9" cy="21.2" r="1.55" fill="#f01e26"/>
<circle cx="122.1" cy="18.7" r="1.4" fill="#f01e26"/>
<circle cx="124.3" cy="16.2" r="1.4" fill="#f01e26"/>
<line x1="123.90" y1="62.98" x2="128.57" y2="21.24" stroke="#d8141c" stroke-width="0.8" />
<circle cx="123.9" cy="63.0" r="1.55" fill="#f01e26"/>
<circle cx="124.3" cy="59.5" r="1.55" fill="#f01e26"/>
<circle cx="124.7" cy="56.0" r="1.55" fill="#f01e26"/>
<circle cx="125.1" cy="52.5" r="1.55" fill="#f01e26"/>
<circle cx="125.5" cy="49.1" r="1.55" fill="#f01e26"/>
<circle cx="125.8" cy="45.6" r="1.55" fill="#f01e26"/>
<circle cx="126.2" cy="42.1" r="1.55" fill="#f01e26"/>
<circle cx="126.6" cy="38.6" r="1.55" fill="#f01e26"/>
<circle cx="127.0" cy="35.2" r="1.55" fill="#f01e26"/>
<circle cx="127.4" cy="31.7" r="1.55" fill="#f01e26"/>
<circle cx="127.8" cy="28.2" r="1.55" fill="#f01e26"/>
<circle cx="128.2" cy="24.7" r="1.55" fill="#f01e26"/>
<circle cx="128.6" cy="21.2" r="1.55" fill="#f01e26"/>
<circle cx="130.4" cy="18.5" r="1.4" fill="#f01e26"/>
<line x1="133.80" y1="63.18" x2="137.19" y2="21.31" stroke="#d8141c" stroke-width="0.8" />
<circle cx="133.8" cy="63.2" r="1.55" fill="#f01e26"/>
<circle cx="134.1" cy="59.7" r="1.55" fill="#f01e26"/>
<circle cx="134.4" cy="56.2" r="1.55" fill="#f01e26"/>
<circle cx="134.6" cy="52.7" r="1.55" fill="#f01e26"/>
<circle cx="134.9" cy="49.2" r="1.55" fill="#f01e26"/>
<circle cx="135.2" cy="45.7" r="1.55" fill="#f01e26"/>
<circle cx="135.5" cy="42.2" r="1.55" fill="#f01e26"/>
<circle cx="135.8" cy="38.8" r="1.55" fill="#f01e26"/>
<circle cx="136.1" cy="35.3" r="1.55" fill="#f01e26"/>
<circle cx="136.3" cy="31.8" r="1.55" fill="#f01e26"/>
<circle cx="136.6" cy="28.3" r="1.55" fill="#f01e26"/>
<circle cx="136.9" cy="24.8" r="1.55" fill="#f01e26"/>
<circle cx="137.2" cy="21.3" r="1.55" fill="#f01e26"/>
<circle cx="138.7" cy="18.4" r="1.4" fill="#f01e26"/>
<line x1="143.70" y1="63.37" x2="145.81" y2="21.43" stroke="#d8141c" stroke-width="0.8" />
<circle cx="143.7" cy="63.4" r="1.55" fill="#f01e26"/>
<circle cx="143.9" cy="59.9" r="1.55" fill="#f01e26"/>
<circle cx="144.1" cy="56.4" r="1.55" fill="#f01e26"/>
<circle cx="144.2" cy="52.9" r="1.55" fill="#f01e26"/>
<circle cx="144.4" cy="49.4" r="1.55" fill="#f01e26"/>
<circle cx="144.6" cy="45.9" r="1.55" fill="#f01e26"/>
<circle cx="144.8" cy="42.4" r="1.55" fill="#f01e26"/>
<circle cx="144.9" cy="38.9" r="1.55" fill="#f01e26"/>
<circle cx="145.1" cy="35.4" r="1.55" fill="#f01e26"/>
<circle cx="145.3" cy="31.9" r="1.55" fill="#f01e26"/>
<circle cx="145.5" cy="28.4" r="1.55" fill="#f01e26"/>
<circle cx="145.6" cy="24.9" r="1.55" fill="#f01e26"/>
<circle cx="145.8" cy="21.4" r="1.55" fill="#f01e26"/>
<circle cx="146.8" cy="18.3" r="1.4" fill="#f01e26"/>
<line x1="153.60" y1="63.25" x2="154.43" y2="21.26" stroke="#d8141c" stroke-width="0.8" />
<circle cx="153.6" cy="63.2" r="1.55" fill="#f01e26"/>
<circle cx="153.7" cy="59.7" r="1.55" fill="#f01e26"/>
<circle cx="153.7" cy="56.2" r="1.55" fill="#f01e26"/>
<circle cx="153.8" cy="52.8" r="1.55" fill="#f01e26"/>
<circle cx="153.9" cy="49.3" r="1.55" fill="#f01e26"/>
<circle cx="153.9" cy="45.8" r="1.55" fill="#f01e26"/>
<circle cx="154.0" cy="42.3" r="1.55" fill="#f01e26"/>
<circle cx="154.1" cy="38.8" r="1.55" fill="#f01e26"/>
<circle cx="154.2" cy="35.3" r="1.55" fill="#f01e26"/>
<circle cx="154.2" cy="31.8" r="1.55" fill="#f01e26"/>
<circle cx="154.3" cy="28.3" r="1.55" fill="#f01e26"/>
<circle cx="154.4" cy="24.8" r="1.55" fill="#f01e26"/>
<circle cx="154.4" cy="21.3" r="1.55" fill="#f01e26"/>
<circle cx="154.8" cy="18.0" r="1.4" fill="#f01e26"/>
<line x1="163.50" y1="62.55" x2="163.04" y2="20.56" stroke="#d8141c" stroke-width="0.8" />
<circle cx="163.5" cy="62.6" r="1.55" fill="#f01e26"/>
<circle cx="163.5" cy="59.1" r="1.55" fill="#f01e26"/>
<circle cx="163.4" cy="55.6" r="1.55" fill="#f01e26"/>
<circle cx="163.4" cy="52.1" r="1.55" fill="#f01e26"/>
<circle cx="163.3" cy="48.6" r="1.55" fill="#f01e26"/>
<circle cx="163.3" cy="45.1" r="1.55" fill="#f01e26"/>
<circle cx="163.3" cy="41.6" r="1.55" fill="#f01e26"/>
<circle cx="163.2" cy="38.1" r="1.55" fill="#f01e26"/>
<circle cx="163.2" cy="34.6" r="1.55" fill="#f01e26"/>
<circle cx="163.2" cy="31.1" r="1.55" fill="#f01e26"/>
<circle cx="163.1" cy="27.6" r="1.55" fill="#f01e26"/>
<circle cx="163.1" cy="24.1" r="1.55" fill="#f01e26"/>
<circle cx="163.0" cy="20.6" r="1.55" fill="#f01e26"/>
<circle cx="162.8" cy="17.3" r="1.4" fill="#f01e26"/>
<line x1="173.40" y1="61.86" x2="171.65" y2="19.90" stroke="#d8141c" stroke-width="0.8" />
<circle cx="173.4" cy="61.9" r="1.55" fill="#f01e26"/>
<circle cx="173.3" cy="58.4" r="1.55" fill="#f01e26"/>
<circle cx="173.1" cy="54.9" r="1.55" fill="#f01e26"/>
<circle cx="173.0" cy="51.4" r="1.55" fill="#f01e26"/>
<circle cx="172.8" cy="47.9" r="1.55" fill="#f01e26"/>
<circle cx="172.7" cy="44.4" r="1.55" fill="#f01e26"/>
<circle cx="172.5" cy="40.9" r="1.55" fill="#f01e26"/>
<circle cx="172.4" cy="37.4" r="1.55" fill="#f01e26"/>
<circle cx="172.2" cy="33.9" r="1.55" fill="#f01e26"/>
<circle cx="172.1" cy="30.4" r="1.55" fill="#f01e26"/>
<circle cx="171.9" cy="26.9" r="1.55" fill="#f01e26"/>
<circle cx="171.8" cy="23.4" r="1.55" fill="#f01e26"/>
<circle cx="171.7" cy="19.9" r="1.55" fill="#f01e26"/>
<circle cx="170.8" cy="16.7" r="1.4" fill="#f01e26"/>
<line x1="183.30" y1="61.17" x2="180.26" y2="19.28" stroke="#d8141c" stroke-width="0.8" />
<circle cx="183.3" cy="61.2" r="1.55" fill="#f01e26"/>
<circle cx="183.0" cy="57.7" r="1.55" fill="#f01e26"/>
<circle cx="182.8" cy="54.2" r="1.55" fill="#f01e26"/>
<circle cx="182.5" cy="50.7" r="1.55" fill="#f01e26"/>
<circle cx="182.3" cy="47.2" r="1.55" fill="#f01e26"/>
<circle cx="182.0" cy="43.7" r="1.55" fill="#f01e26"/>
<circle cx="181.8" cy="40.2" r="1.55" fill="#f01e26"/>
<circle cx="181.5" cy="36.7" r="1.55" fill="#f01e26"/>
<circle cx="181.3" cy="33.2" r="1.55" fill="#f01e26"/>
<circle cx="181.0" cy="29.8" r="1.55" fill="#f01e26"/>
<circle cx="180.8" cy="26.3" r="1.55" fill="#f01e26"/>
<circle cx="180.5" cy="22.8" r="1.55" fill="#f01e26"/>
<circle cx="180.3" cy="19.3" r="1.55" fill="#f01e26"/>
<circle cx="178.9" cy="16.3" r="1.4" fill="#f01e26"/>
<line x1="193.20" y1="60.48" x2="189.23" y2="22.18" stroke="#d8141c" stroke-width="0.8" />
<circle cx="193.2" cy="60.5" r="1.55" fill="#f01e26"/>
<circle cx="192.8" cy="57.0" r="1.55" fill="#f01e26"/>
<circle cx="192.5" cy="53.5" r="1.55" fill="#f01e26"/>
<circle cx="192.1" cy="50.0" r="1.55" fill="#f01e26"/>
<circle cx="191.8" cy="46.6" r="1.55" fill="#f01e26"/>
<circle cx="191.4" cy="43.1" r="1.55" fill="#f01e26"/>
<circle cx="191.0" cy="39.6" r="1.55" fill="#f01e26"/>
<circle cx="190.7" cy="36.1" r="1.55" fill="#f01e26"/>
<circle cx="190.3" cy="32.6" r="1.55" fill="#f01e26"/>
<circle cx="190.0" cy="29.1" r="1.55" fill="#f01e26"/>
<circle cx="189.6" cy="25.7" r="1.55" fill="#f01e26"/>
<circle cx="189.2" cy="22.2" r="1.55" fill="#f01e26"/>
<circle cx="187.5" cy="19.4" r="1.4" fill="#f01e26"/>
<circle cx="185.8" cy="16.6" r="1.4" fill="#f01e26"/>
<line x1="203.10" y1="59.81" x2="197.96" y2="21.66" stroke="#d8141c" stroke-width="0.8" />
<circle cx="203.1" cy="59.8" r="1.55" fill="#f01e26"/>
<circle cx="202.6" cy="56.3" r="1.55" fill="#f01e26"/>
<circle cx="202.2" cy="52.9" r="1.55" fill="#f01e26"/>
<circle cx="201.7" cy="49.4" r="1.55" fill="#f01e26"/>
<circle cx="201.2" cy="45.9" r="1.55" fill="#f01e26"/>
<circle cx="200.8" cy="42.5" r="1.55" fill="#f01e26"/>
<circle cx="200.3" cy="39.0" r="1.55" fill="#f01e26"/>
<circle cx="199.8" cy="35.5" r="1.55" fill="#f01e26"/>
<circle cx="199.4" cy="32.1" r="1.55" fill="#f01e26"/>
<circle cx="198.9" cy="28.6" r="1.55" fill="#f01e26"/>
<circle cx="198.4" cy="25.1" r="1.55" fill="#f01e26"/>
<circle cx="198.0" cy="21.7" r="1.55" fill="#f01e26"/>
<circle cx="195.9" cy="19.1" r="1.4" fill="#f01e26"/>
<circle cx="193.8" cy="16.5" r="1.4" fill="#f01e26"/>
<line x1="213.00" y1="59.22" x2="206.69" y2="21.24" stroke="#d8141c" stroke-width="0.8" />
<circle cx="213.0" cy="59.2" r="1.55" fill="#f01e26"/>
<circle cx="212.4" cy="55.8" r="1.55" fill="#f01e26"/>
<circle cx="211.9" cy="52.3" r="1.55" fill="#f01e26"/>
<circle cx="211.3" cy="48.9" r="1.55" fill="#f01e26"/>
<circle cx="210.7" cy="45.4" r="1.55" fill="#f01e26"/>
<circle cx="210.1" cy="42.0" r="1.55" fill="#f01e26"/>
<circle cx="209.6" cy="38.5" r="1.55" fill="#f01e26"/>
<circle cx="209.0" cy="35.1" r="1.55" fill="#f01e26"/>
<circle cx="208.4" cy="31.6" r="1.55" fill="#f01e26"/>
<circle cx="207.8" cy="28.1" r="1.55" fill="#f01e26"/>
<circle cx="207.3" cy="24.7" r="1.55" fill="#f01e26"/>
<circle cx="206.7" cy="21.2" r="1.55" fill="#f01e26"/>
<circle cx="204.3" cy="18.9" r="1.4" fill="#f01e26"/>
<line x1="222.90" y1="58.63" x2="215.44" y2="20.85" stroke="#d8141c" stroke-width="0.8" />
<circle cx="222.9" cy="58.6" r="1.55" fill="#f01e26"/>
<circle cx="222.2" cy="55.2" r="1.55" fill="#f01e26"/>
<circle cx="221.5" cy="51.8" r="1.55" fill="#f01e26"/>
<circle cx="220.9" cy="48.3" r="1.55" fill="#f01e26"/>
<circle cx="220.2" cy="44.9" r="1.55" fill="#f01e26"/>
<circle cx="219.5" cy="41.5" r="1.55" fill="#f01e26"/>
<circle cx="218.8" cy="38.0" r="1.55" fill="#f01e26"/>
<circle cx="218.2" cy="34.6" r="1.55" fill="#f01e26"/>
<circle cx="217.5" cy="31.2" r="1.55" fill="#f01e26"/>
<circle cx="216.8" cy="27.7" r="1.55" fill="#f01e26"/>
<circle cx="216.1" cy="24.3" r="1.55" fill="#f01e26"/>
<circle cx="215.4" cy="20.9" r="1.55" fill="#f01e26"/>
<circle cx="212.9" cy="18.8" r="1.4" fill="#f01e26"/>
<line x1="232.80" y1="58.03" x2="224.21" y2="20.50" stroke="#d8141c" stroke-width="0.8" />
<circle cx="232.8" cy="58.0" r="1.55" fill="#f01e26"/>
<circle cx="232.0" cy="54.6" r="1.55" fill="#f01e26"/>
<circle cx="231.2" cy="51.2" r="1.55" fill="#f01e26"/>
<circle cx="230.5" cy="47.8" r="1.55" fill="#f01e26"/>
<circle cx="229.7" cy="44.4" r="1.55" fill="#f01e26"/>
<circle cx="228.9" cy="41.0" r="1.55" fill="#f01e26"/>
<circle cx="228.1" cy="37.6" r="1.55" fill="#f01e26"/>
<circle cx="227.3" cy="34.1" r="1.55" fill="#f01e26"/>
<circle cx="226.6" cy="30.7" r="1.55" fill="#f01e26"/>
<circle cx="225.8" cy="27.3" r="1.55" fill="#f01e26"/>
<circle cx="225.0" cy="23.9" r="1.55" fill="#f01e26"/>
<circle cx="224.2" cy="20.5" r="1.55" fill="#f01e26"/>
<circle cx="221.5" cy="18.6" r="1.4" fill="#f01e26"/>
<line x1="242.70" y1="57.44" x2="233.88" y2="23.57" stroke="#d8141c" stroke-width="0.8" />
<circle cx="242.7" cy="57.4" r="1.55" fill="#f01e26"/>
<circle cx="241.8" cy="54.1" r="1.55" fill="#f01e26"/>
<circle cx="240.9" cy="50.7" r="1.55" fill="#f01e26"/>
<circle cx="240.1" cy="47.3" r="1.55" fill="#f01e26"/>
<circle cx="239.2" cy="43.9" r="1.55" fill="#f01e26"/>
<circle cx="238.3" cy="40.5" r="1.55" fill="#f01e26"/>
<circle cx="237.4" cy="37.1" r="1.55" fill="#f01e26"/>
<circle cx="236.5" cy="33.7" r="1.55" fill="#f01e26"/>
<circle cx="235.6" cy="30.3" r="1.55" fill="#f01e26"/>
<circle cx="234.8" cy="27.0" r="1.55" fill="#f01e26"/>
<circle cx="233.9" cy="23.6" r="1.55" fill="#f01e26"/>
<circle cx="231.1" cy="21.8" r="1.4" fill="#f01e26"/>
<circle cx="228.4" cy="19.9" r="1.4" fill="#f01e26"/>
<circle cx="225.6" cy="18.1" r="1.4" fill="#f01e26"/>
<line x1="252.60" y1="56.02" x2="242.76" y2="22.44" stroke="#d8141c" stroke-width="0.8" />
<circle cx="252.6" cy="56.0" r="1.55" fill="#f01e26"/>
<circle cx="251.6" cy="52.7" r="1.55" fill="#f01e26"/>
<circle cx="250.6" cy="49.3" r="1.55" fill="#f01e26"/>
<circle cx="249.6" cy="45.9" r="1.55" fill="#f01e26"/>
<circle cx="248.7" cy="42.6" r="1.55" fill="#f01e26"/>
<circle cx="247.7" cy="39.2" r="1.55" fill="#f01e26"/>
<circle cx="246.7" cy="35.9" r="1.55" fill="#f01e26"/>
<circle cx="245.7" cy="32.5" r="1.55" fill="#f01e26"/>
<circle cx="244.7" cy="29.2" r="1.55" fill="#f01e26"/>
<circle cx="243.7" cy="25.8" r="1.55" fill="#f01e26"/>
<circle cx="242.8" cy="22.4" r="1.55" fill="#f01e26"/>
<circle cx="239.9" cy="20.8" r="1.4" fill="#f01e26"/>
<circle cx="237.0" cy="19.2" r="1.4" fill="#f01e26"/>
<circle cx="163.3" cy="34.5" r="2.6" fill="#a424c6"/>
<circle cx="242.7" cy="28.1" r="2.6" fill="#a424c6"/>
<circle cx="184.2" cy="39.7" r="2.3" fill="#4a4ad2"/>
<circle cx="74.9" cy="48.3" r="2.3" fill="#4a4ad2"/>
<circle cx="198.8" cy="53.2" r="2.3" fill="#4a4ad2"/>
<circle cx="99.8" cy="53.2" r="2.3" fill="#4a4ad2"/>
<circle cx="213.3" cy="45.6" r="2.3" fill="#4a4ad2"/>
<circle cx="108.9" cy="33.0" r="2.3" fill="#4a4ad2"/>
<circle cx="223.6" cy="50.9" r="2.6" fill="#a424c6"/>
<circle cx="135.0" cy="34.9" r="2.3" fill="#4a4ad2"/>
<circle cx="188.6" cy="48.3" r="2.3" fill="#4a4ad2"/>
<circle cx="109.5" cy="28.2" r="2.3" fill="#4a4ad2"/>
<circle cx="115.0" cy="39.8" r="2.6" fill="#a424c6"/>
<circle cx="144.2" cy="50.1" r="2.6" fill="#a424c6"/>
<circle cx="134.6" cy="49.7" r="2.3" fill="#4a4ad2"/>
<circle cx="149.1" cy="47.2" r="2.3" fill="#4a4ad2"/>
<circle cx="214.2" cy="51.6" r="2.3" fill="#4a4ad2"/>
<circle cx="134.7" cy="29.6" r="2.3" fill="#4a4ad2"/>
<circle cx="80.3" cy="49.9" r="2.6" fill="#a424c6"/>
<circle cx="148.6" cy="42.3" r="2.6" fill="#a424c6"/>
<circle cx="194.2" cy="40.6" r="2.3" fill="#4a4ad2"/>
<circle cx="174.3" cy="35.4" r="2.3" fill="#4a4ad2"/>
<circle cx="114.5" cy="50.4" r="2.3" fill="#4a4ad2"/>
<circle cx="119.1" cy="27.6" r="2.6" fill="#a424c6"/>
<circle cx="219.1" cy="34.1" r="2.6" fill="#a424c6"/>
<circle cx="168.9" cy="42.7" r="2.6" fill="#a424c6"/>
<circle cx="144.2" cy="45.1" r="2.3" fill="#4a4ad2"/>
<circle cx="79.6" cy="44.7" r="2.3" fill="#4a4ad2"/>
<circle cx="144.2" cy="54.9" r="2.3" fill="#4a4ad2"/>
<circle cx="129.4" cy="52.5" r="2.3" fill="#4a4ad2"/>
<circle cx="222.7" cy="46.6" r="2.6" fill="#a424c6"/>
<circle cx="228.8" cy="33.7" r="2.6" fill="#a424c6"/>
<circle cx="252.8" cy="39.6" r="2.6" fill="#a424c6"/>
<circle cx="123.8" cy="54.9" r="2.6" fill="#a424c6"/>
<circle cx="128.8" cy="47.1" r="2.3" fill="#4a4ad2"/>
<circle cx="212.8" cy="35.8" r="2.3" fill="#4a4ad2"/>
<circle cx="198.4" cy="47.8" r="2.3" fill="#4a4ad2"/>
<circle cx="188.5" cy="32.5" r="2.3" fill="#4a4ad2"/>
<circle cx="232.8" cy="46.7" r="2.6" fill="#a424c6"/>
<circle cx="154.1" cy="44.6" r="2.6" fill="#a424c6"/>
<circle cx="174.4" cy="29.7" r="2.3" fill="#4a4ad2"/>
<circle cx="169.7" cy="27.4" r="2.6" fill="#a424c6"/>
<circle cx="149.8" cy="52.0" r="2.3" fill="#4a4ad2"/>
<circle cx="104.7" cy="45.3" r="2.3" fill="#4a4ad2"/>
<circle cx="158.6" cy="33.0" r="2.3" fill="#4a4ad2"/>
<circle cx="85.5" cy="32.0" r="2.6" fill="#a424c6"/>
<circle cx="243.7" cy="32.8" r="2.6" fill="#a424c6"/>
<circle cx="218.2" cy="38.4" r="2.6" fill="#a424c6"/>
<circle cx="62.3" cy="23.5" r="1.45" fill="#f01e26"/>
<circle cx="62.3" cy="30.0" r="1.45" fill="#f01e26"/>
<circle cx="62.3" cy="35.5" r="1.45" fill="#f01e26"/>
<circle cx="62.5" cy="41.0" r="1.45" fill="#f01e26"/>
<circle cx="62.5" cy="45.5" r="1.45" fill="#f01e26"/>
<circle cx="62.8" cy="51.5" r="1.45" fill="#f01e26"/>
<circle cx="63.5" cy="56.5" r="1.45" fill="#f01e26"/>
<circle cx="258.0" cy="24.0" r="1.45" fill="#f01e26"/>
<circle cx="260.5" cy="33.0" r="1.45" fill="#f01e26"/>
<circle cx="261.0" cy="44.0" r="1.45" fill="#f01e26"/>
<circle cx="257.0" cy="52.0" r="1.45" fill="#f01e26"/>
<circle cx="252.0" cy="20.5" r="1.45" fill="#f01e26"/>
<circle cx="70.0" cy="20.5" r="1.45" fill="#f01e26"/>
<circle cx="66.0" cy="19.8" r="1.45" fill="#f01e26"/>
<circle cx="66.3" cy="29.4" r="2.5" fill="#a424c6"/>
<circle cx="68.5" cy="40.6" r="2.5" fill="#a424c6"/>
<circle cx="66.3" cy="51.1" r="2.5" fill="#a424c6"/>
<circle cx="72.5" cy="34.0" r="2.5" fill="#4a4ad2"/>
<circle cx="72.0" cy="46.0" r="2.5" fill="#4a4ad2"/>
<text x="275.7" y="37.3" font-size="15" font-family="Liberation Serif, serif" fill="#000">Mn<tspan font-size="10.5" dy="3">3</tspan><tspan dy="-3">O</tspan><tspan font-size="10.5" dy="3">4</tspan></text>
<line x1="257.00" y1="41.60" x2="271.00" y2="33.40" stroke="#000" stroke-width="1.3" />
<text x="32.4" y="69.6" font-size="15" font-family="Liberation Serif, serif" fill="#000">MoS<tspan font-size="10.5" dy="3">2</tspan></text>
<line x1="67.90" y1="66.40" x2="87.70" y2="73.90" stroke="#000" stroke-width="1.3" />
<text x="107.6" y="110.4" font-size="18.4" font-family="Liberation Serif, serif" fill="#fff">SiO<tspan font-size="13" dy="3.8">2</tspan><tspan dy="-3.8">/Si</tspan></text>
<defs><linearGradient id="gEl" gradientUnits="userSpaceOnUse" x1="40" y1="0" x2="186" y2="0"><stop offset="0" stop-color="#eedcb6"/><stop offset="0.6" stop-color="#eed5a4"/><stop offset="1" stop-color="#ecc486"/></linearGradient><linearGradient id="gBg" x1="0" y1="0" x2="1" y2="0"><stop offset="0" stop-color="#89698a"/><stop offset="1" stop-color="#8e6d8a"/></linearGradient></defs>
<clipPath id="cpM"><rect x="40.0" y="125.7" width="249.5" height="87.3"/></clipPath><g clip-path="url(#cpM)">
<rect x="40.0" y="125.7" width="249.5" height="87.3" fill="url(#gBg)"/>
<polygon points="145.8,146.2 184.6,144.5 200.8,168.8 194.3,199.5 150.7,205.9 132.9,173.6" fill="#8468c2" />
<polygon points="150.7,146.5 178.0,145.5 178.0,205.0 152.0,205.5" fill="#7a5eb6" />
<line x1="177.40" y1="126.00" x2="178.50" y2="150.00" stroke="#6a3a8a" stroke-width="0.8" />
<ellipse cx="167.5" cy="142.5" rx="3.2" ry="1.1" fill="#48b8e8" transform="rotate(20 167.5 142.5)"/>
<ellipse cx="161.5" cy="198.5" rx="2.2" ry="1.0" fill="#3a60d8"/>
<polygon points="40.0,125.7 64.5,125.7 141.0,155.5 143.0,158.3 184.0,158.3 186.0,160.5 186.0,169.0 184.0,171.2 138.0,171.2 40.0,142.9" fill="url(#gEl)" stroke="#d89a5a" stroke-width="0.6"/>
<polygon points="141.0,155.5 143.0,158.3 184.0,158.3 186.0,160.5 186.0,169.0 184.0,171.2 138.0,171.2 136.5,169.5" fill="#eec48a" opacity="0.6"/>
<polygon points="40.0,198.5 137.8,180.1 184.5,180.1 186.2,182.0 186.2,192.0 184.5,193.8 149.0,193.8 72.4,213.0 40.0,213.0" fill="url(#gEl)" stroke="#d89a5a" stroke-width="0.6"/>
<polygon points="137.8,180.1 184.5,180.1 186.2,182.0 186.2,192.0 184.5,193.8 149.0,193.8 141.0,190.0" fill="#eec48a" opacity="0.6"/>
</g>
<text x="84.0" y="178.8" font-size="14.5" font-family="Liberation Serif, serif" fill="#000">MoS<tspan font-size="10" dy="3">2</tspan></text>
<line x1="121.20" y1="177.20" x2="158.60" y2="177.20" stroke="#000" stroke-width="1.3" />
<text x="221.4" y="180.0" font-size="15" font-family="Liberation Serif, serif" fill="#000">Mn<tspan font-size="10.5" dy="3">3</tspan><tspan dy="-3">O</tspan><tspan font-size="10.5" dy="3">4</tspan></text>
<line x1="192.10" y1="175.00" x2="218.40" y2="175.00" stroke="#000" stroke-width="1.3" />
<text x="225.4" y="143.8" font-size="17.6" font-family="Liberation Serif, serif" fill="#fff">SiO<tspan font-size="12.4" dy="3.6">2</tspan><tspan dy="-3.6">/Si</tspan></text>
<text x="249.2" y="204.6" font-size="14.3" font-family="Liberation Serif, serif" fill="#fff">10 μm</text>
<rect x="250.7" y="208.9" width="34" height="2.6" fill="#fff"/>
<g font-family="Liberation Sans, sans-serif" font-weight="bold" fill="#000">
<text x="15.80" y="15.30" font-size="20" fill="#000" text-anchor="start" >a</text>
<text x="362.30" y="15.30" font-size="20" fill="#000" text-anchor="start" >b</text>
<text x="14.80" y="249.60" font-size="20" fill="#000" text-anchor="start" >c</text>
<text x="361.80" y="249.60" font-size="20" fill="#000" text-anchor="start" >d</text>
</g>
</svg>
</body></html>
